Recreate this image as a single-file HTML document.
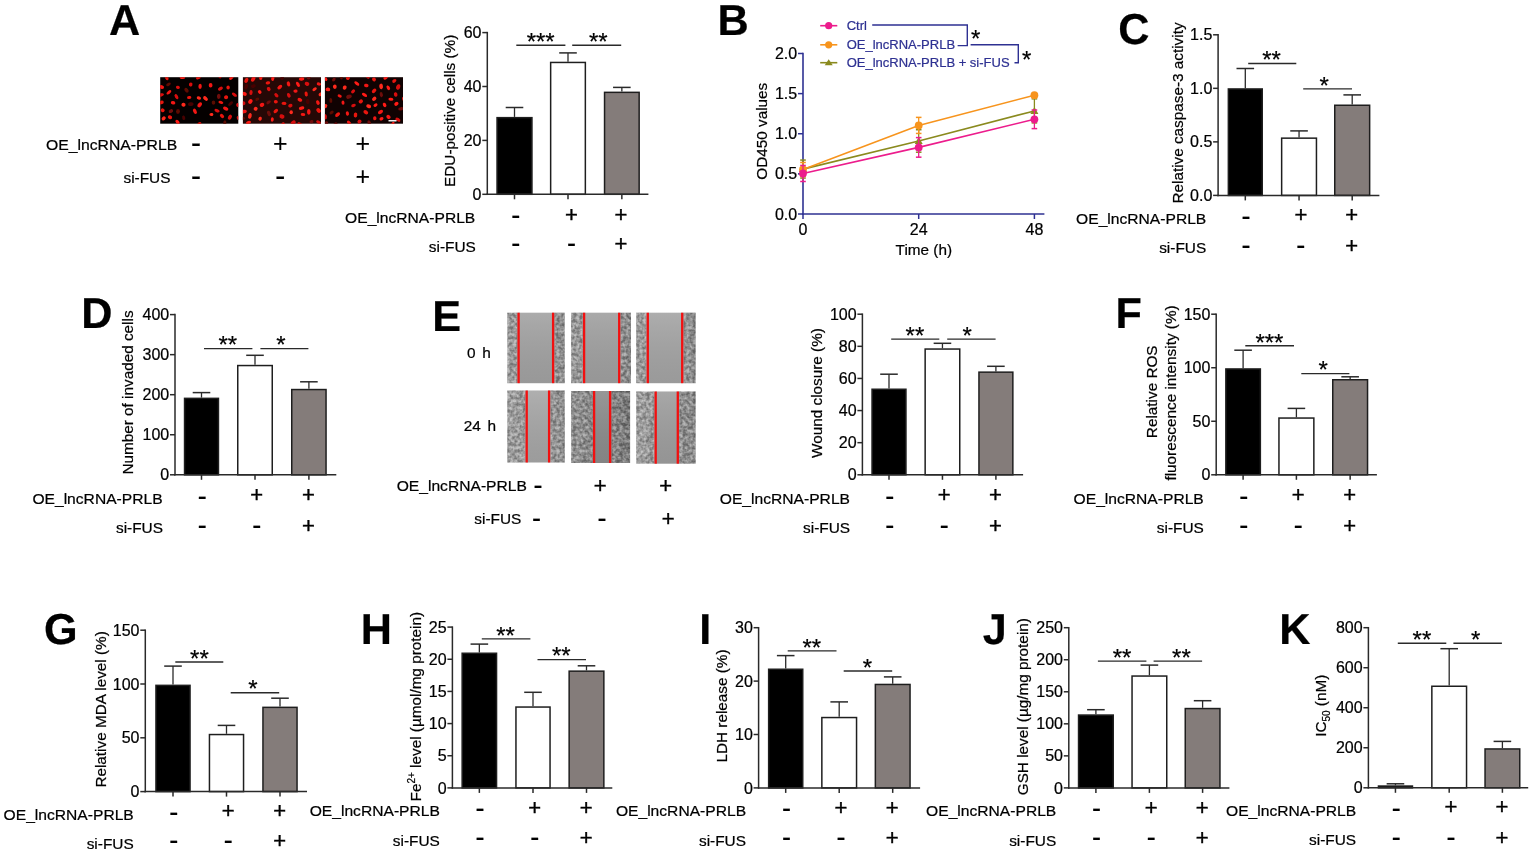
<!DOCTYPE html>
<html><head><meta charset="utf-8"><style>html,body{margin:0;padding:0;background:#fff;}svg{display:block;}</style></head>
<body>
<svg width="1535" height="854" viewBox="0 0 1535 854" font-family="'Liberation Sans', Arial, sans-serif">
<rect width="1535" height="854" fill="#fff"/>
<defs><filter id="bl" x="-20%" y="-20%" width="140%" height="140%"><feGaussianBlur stdDeviation="0.45"/></filter></defs>
<text x="109.03" y="35.00" font-size="43.2" text-anchor="start" font-weight="bold" style="text-rendering:geometricPrecision" stroke="#000" stroke-width="0.22">A</text>
<rect x="160.2" y="77.2" width="78.1" height="46.5" fill="#040000"/>
<clipPath id="c1"><rect x="160.2" y="77.2" width="78.1" height="46.5"/></clipPath>
<g clip-path="url(#c1)"><g filter="url(#bl)">
<ellipse cx="170.0" cy="117.3" rx="2.2" ry="1.9" transform="rotate(19 170.0 117.3)" fill="#e81410"/>
<ellipse cx="220.4" cy="88.6" rx="2.7" ry="1.7" transform="rotate(147 220.4 88.6)" fill="#d81010"/>
<ellipse cx="198.9" cy="98.0" rx="2.2" ry="1.7" transform="rotate(18 198.9 98.0)" fill="#ff2a1e"/>
<ellipse cx="211.4" cy="114.5" rx="2.0" ry="1.5" transform="rotate(177 211.4 114.5)" fill="#ff2a1e"/>
<ellipse cx="166.7" cy="77.6" rx="2.7" ry="1.6" transform="rotate(70 166.7 77.6)" fill="#e81410"/>
<ellipse cx="226.1" cy="97.2" rx="2.1" ry="2.0" transform="rotate(175 226.1 97.2)" fill="#e81410"/>
<ellipse cx="220.3" cy="76.3" rx="2.1" ry="1.6" transform="rotate(111 220.3 76.3)" fill="#d81010"/>
<ellipse cx="194.9" cy="111.2" rx="2.8" ry="1.7" transform="rotate(64 194.9 111.2)" fill="#f21812"/>
<ellipse cx="177.5" cy="122.0" rx="2.5" ry="1.6" transform="rotate(44 177.5 122.0)" fill="#ff1a14"/>
<ellipse cx="231.4" cy="77.7" rx="2.7" ry="1.5" transform="rotate(136 231.4 77.7)" fill="#ff1a14"/>
<ellipse cx="161.2" cy="102.5" rx="2.6" ry="1.8" transform="rotate(169 161.2 102.5)" fill="#e81410"/>
<ellipse cx="234.4" cy="94.7" rx="2.9" ry="1.5" transform="rotate(34 234.4 94.7)" fill="#d81010"/>
<ellipse cx="176.5" cy="96.7" rx="2.8" ry="1.6" transform="rotate(60 176.5 96.7)" fill="#d81010"/>
<ellipse cx="161.5" cy="87.0" rx="2.6" ry="1.9" transform="rotate(17 161.5 87.0)" fill="#f21812"/>
<ellipse cx="177.9" cy="87.4" rx="2.0" ry="1.6" transform="rotate(13 177.9 87.4)" fill="#d81010"/>
<ellipse cx="182.4" cy="77.2" rx="2.8" ry="1.9" transform="rotate(4 182.4 77.2)" fill="#ff1a14"/>
<ellipse cx="210.6" cy="85.2" rx="2.3" ry="1.9" transform="rotate(89 210.6 85.2)" fill="#f21812"/>
<ellipse cx="238.7" cy="117.9" rx="2.1" ry="1.9" transform="rotate(59 238.7 117.9)" fill="#d81010"/>
<ellipse cx="168.9" cy="92.3" rx="2.9" ry="1.5" transform="rotate(140 168.9 92.3)" fill="#f21812"/>
<ellipse cx="217.0" cy="110.7" rx="2.7" ry="1.6" transform="rotate(19 217.0 110.7)" fill="#d81010"/>
<ellipse cx="225.7" cy="108.7" rx="2.8" ry="1.8" transform="rotate(23 225.7 108.7)" fill="#f21812"/>
<ellipse cx="183.5" cy="104.7" rx="2.1" ry="2.0" transform="rotate(6 183.5 104.7)" fill="#ff2a1e"/>
<ellipse cx="229.9" cy="117.2" rx="2.7" ry="1.8" transform="rotate(121 229.9 117.2)" fill="#d81010"/>
<ellipse cx="199.7" cy="104.8" rx="2.8" ry="1.9" transform="rotate(124 199.7 104.8)" fill="#f21812"/>
<ellipse cx="173.1" cy="102.8" rx="2.3" ry="1.7" transform="rotate(9 173.1 102.8)" fill="#f21812"/>
<ellipse cx="189.2" cy="97.5" rx="2.2" ry="1.5" transform="rotate(173 189.2 97.5)" fill="#e81410"/>
<ellipse cx="198.4" cy="77.6" rx="2.5" ry="1.7" transform="rotate(153 198.4 77.6)" fill="#e81410"/>
<ellipse cx="162.7" cy="110.3" rx="2.0" ry="1.9" transform="rotate(31 162.7 110.3)" fill="#e81410"/>
<ellipse cx="238.0" cy="105.0" rx="2.0" ry="1.8" transform="rotate(75 238.0 105.0)" fill="#d81010"/>
<ellipse cx="190.7" cy="84.5" rx="2.0" ry="1.8" transform="rotate(104 190.7 84.5)" fill="#d81010"/>
<ellipse cx="199.4" cy="123.8" rx="2.1" ry="1.6" transform="rotate(149 199.4 123.8)" fill="#e81410"/>
<ellipse cx="220.9" cy="102.4" rx="2.5" ry="1.5" transform="rotate(16 220.9 102.4)" fill="#e81410"/>
<ellipse cx="228.1" cy="87.5" rx="2.0" ry="1.7" transform="rotate(90 228.1 87.5)" fill="#e81410"/>
<ellipse cx="205.5" cy="98.5" rx="2.8" ry="1.8" transform="rotate(41 205.5 98.5)" fill="#ff2a1e"/>
<ellipse cx="222.0" cy="116.0" rx="2.4" ry="1.7" transform="rotate(41 222.0 116.0)" fill="#e81410"/>
<ellipse cx="163.7" cy="118.4" rx="2.3" ry="1.8" transform="rotate(131 163.7 118.4)" fill="#ff2a1e"/>
<ellipse cx="161.1" cy="94.9" rx="2.9" ry="1.6" transform="rotate(166 161.1 94.9)" fill="#d81010"/>
<ellipse cx="200.1" cy="86.3" rx="2.6" ry="1.7" transform="rotate(92 200.1 86.3)" fill="#f21812"/>
<ellipse cx="170.9" cy="111.1" rx="2.3" ry="1.8" transform="rotate(153 170.9 111.1)" fill="#6e0a08"/>
<ellipse cx="213.5" cy="102.6" rx="2.1" ry="1.8" transform="rotate(84 213.5 102.6)" fill="#5a0806"/>
<ellipse cx="190.8" cy="104.1" rx="2.8" ry="1.9" transform="rotate(173 190.8 104.1)" fill="#4a0606"/>
<ellipse cx="183.7" cy="117.8" rx="2.3" ry="1.5" transform="rotate(77 183.7 117.8)" fill="#4a0606"/>
<ellipse cx="218.8" cy="96.4" rx="2.6" ry="1.9" transform="rotate(89 218.8 96.4)" fill="#6e0a08"/>
<ellipse cx="224.8" cy="122.9" rx="2.6" ry="1.6" transform="rotate(93 224.8 122.9)" fill="#5a0806"/>
<ellipse cx="178.0" cy="111.4" rx="2.5" ry="2.0" transform="rotate(94 178.0 111.4)" fill="#5a0806"/>
<ellipse cx="186.5" cy="90.3" rx="2.7" ry="1.8" transform="rotate(48 186.5 90.3)" fill="#5a0806"/>
<ellipse cx="230.6" cy="103.6" rx="2.9" ry="1.5" transform="rotate(140 230.6 103.6)" fill="#4a0606"/>
<ellipse cx="168.5" cy="84.3" rx="2.6" ry="1.5" transform="rotate(153 168.5 84.3)" fill="#5a0806"/>
</g></g>
<rect x="242.9" y="77.2" width="78.1" height="46.5" fill="#260806"/>
<clipPath id="c2"><rect x="242.9" y="77.2" width="78.1" height="46.5"/></clipPath>
<g clip-path="url(#c2)"><g filter="url(#bl)">
<ellipse cx="318.5" cy="122.2" rx="2.5" ry="1.5" transform="rotate(27 318.5 122.2)" fill="#d81010"/>
<ellipse cx="246.4" cy="80.3" rx="2.7" ry="1.8" transform="rotate(114 246.4 80.3)" fill="#e81410"/>
<ellipse cx="308.8" cy="111.9" rx="2.8" ry="1.8" transform="rotate(89 308.8 111.9)" fill="#f21812"/>
<ellipse cx="295.5" cy="91.1" rx="2.1" ry="1.6" transform="rotate(174 295.5 91.1)" fill="#f21812"/>
<ellipse cx="290.4" cy="105.6" rx="2.2" ry="1.8" transform="rotate(157 290.4 105.6)" fill="#d81010"/>
<ellipse cx="288.5" cy="83.9" rx="2.6" ry="1.7" transform="rotate(73 288.5 83.9)" fill="#f21812"/>
<ellipse cx="276.4" cy="95.3" rx="2.5" ry="1.6" transform="rotate(45 276.4 95.3)" fill="#d81010"/>
<ellipse cx="299.8" cy="124.4" rx="2.7" ry="1.9" transform="rotate(21 299.8 124.4)" fill="#e81410"/>
<ellipse cx="317.9" cy="102.6" rx="2.4" ry="1.7" transform="rotate(68 317.9 102.6)" fill="#f21812"/>
<ellipse cx="272.3" cy="119.5" rx="2.2" ry="1.5" transform="rotate(94 272.3 119.5)" fill="#ff1a14"/>
<ellipse cx="284.0" cy="103.4" rx="2.5" ry="1.7" transform="rotate(1 284.0 103.4)" fill="#e81410"/>
<ellipse cx="260.8" cy="77.4" rx="2.6" ry="1.7" transform="rotate(93 260.8 77.4)" fill="#ff1a14"/>
<ellipse cx="267.9" cy="82.8" rx="2.3" ry="1.6" transform="rotate(170 267.9 82.8)" fill="#e81410"/>
<ellipse cx="282.8" cy="124.6" rx="2.5" ry="1.8" transform="rotate(132 282.8 124.6)" fill="#f21812"/>
<ellipse cx="303.0" cy="114.5" rx="2.3" ry="1.5" transform="rotate(8 303.0 114.5)" fill="#f21812"/>
<ellipse cx="318.9" cy="84.0" rx="2.2" ry="1.6" transform="rotate(9 318.9 84.0)" fill="#f21812"/>
<ellipse cx="282.0" cy="116.5" rx="2.6" ry="2.0" transform="rotate(18 282.0 116.5)" fill="#d81010"/>
<ellipse cx="299.9" cy="99.8" rx="2.5" ry="1.8" transform="rotate(25 299.9 99.8)" fill="#f21812"/>
<ellipse cx="259.7" cy="91.9" rx="2.0" ry="1.7" transform="rotate(48 259.7 91.9)" fill="#ff1a14"/>
<ellipse cx="297.9" cy="84.3" rx="2.8" ry="1.6" transform="rotate(61 297.9 84.3)" fill="#ff1a14"/>
<ellipse cx="314.6" cy="89.2" rx="2.5" ry="1.5" transform="rotate(141 314.6 89.2)" fill="#ff2a1e"/>
<ellipse cx="318.6" cy="110.5" rx="2.7" ry="2.0" transform="rotate(50 318.6 110.5)" fill="#e81410"/>
<ellipse cx="301.6" cy="79.0" rx="2.8" ry="1.7" transform="rotate(174 301.6 79.0)" fill="#ff1a14"/>
<ellipse cx="260.1" cy="118.7" rx="2.0" ry="1.7" transform="rotate(114 260.1 118.7)" fill="#ff2a1e"/>
<ellipse cx="250.4" cy="101.5" rx="2.6" ry="2.0" transform="rotate(129 250.4 101.5)" fill="#ff1a14"/>
<ellipse cx="275.8" cy="111.0" rx="2.6" ry="1.7" transform="rotate(139 275.8 111.0)" fill="#e81410"/>
<ellipse cx="244.5" cy="93.8" rx="2.4" ry="1.9" transform="rotate(29 244.5 93.8)" fill="#ff1a14"/>
<ellipse cx="255.7" cy="108.8" rx="2.0" ry="1.9" transform="rotate(130 255.7 108.8)" fill="#ff2a1e"/>
<ellipse cx="248.5" cy="122.5" rx="2.6" ry="1.6" transform="rotate(163 248.5 122.5)" fill="#ff1a14"/>
<ellipse cx="243.9" cy="111.6" rx="2.9" ry="1.8" transform="rotate(168 243.9 111.6)" fill="#f21812"/>
<ellipse cx="307.0" cy="83.8" rx="2.4" ry="2.0" transform="rotate(20 307.0 83.8)" fill="#d81010"/>
<ellipse cx="272.8" cy="78.3" rx="2.8" ry="1.6" transform="rotate(99 272.8 78.3)" fill="#ff1a14"/>
<ellipse cx="291.2" cy="112.2" rx="2.0" ry="1.7" transform="rotate(90 291.2 112.2)" fill="#ff2a1e"/>
<ellipse cx="251.0" cy="92.6" rx="2.5" ry="1.6" transform="rotate(95 251.0 92.6)" fill="#d81010"/>
<ellipse cx="279.8" cy="87.1" rx="2.8" ry="1.7" transform="rotate(141 279.8 87.1)" fill="#f21812"/>
<ellipse cx="288.8" cy="95.3" rx="2.4" ry="1.7" transform="rotate(67 288.8 95.3)" fill="#d81010"/>
<ellipse cx="243.3" cy="103.3" rx="2.2" ry="1.9" transform="rotate(170 243.3 103.3)" fill="#d81010"/>
<ellipse cx="253.2" cy="79.0" rx="2.9" ry="1.9" transform="rotate(117 253.2 79.0)" fill="#f21812"/>
<ellipse cx="262.0" cy="104.9" rx="2.4" ry="2.0" transform="rotate(153 262.0 104.9)" fill="#f21812"/>
<ellipse cx="275.8" cy="101.7" rx="2.0" ry="1.8" transform="rotate(176 275.8 101.7)" fill="#e81410"/>
<ellipse cx="306.2" cy="94.0" rx="2.5" ry="1.6" transform="rotate(80 306.2 94.0)" fill="#e81410"/>
<ellipse cx="320.7" cy="94.3" rx="2.2" ry="1.7" transform="rotate(139 320.7 94.3)" fill="#ff2a1e"/>
<ellipse cx="293.2" cy="122.7" rx="2.7" ry="2.0" transform="rotate(148 293.2 122.7)" fill="#d81010"/>
<ellipse cx="301.6" cy="108.1" rx="2.8" ry="1.7" transform="rotate(168 301.6 108.1)" fill="#ff1a14"/>
<ellipse cx="249.9" cy="115.8" rx="2.9" ry="1.8" transform="rotate(102 249.9 115.8)" fill="#ff2a1e"/>
<ellipse cx="268.7" cy="89.1" rx="2.2" ry="1.8" transform="rotate(66 268.7 89.1)" fill="#d81010"/>
<ellipse cx="282.2" cy="77.5" rx="2.4" ry="1.8" transform="rotate(100 282.2 77.5)" fill="#4a0606"/>
<ellipse cx="311.5" cy="121.6" rx="2.1" ry="1.6" transform="rotate(168 311.5 121.6)" fill="#6e0a08"/>
<ellipse cx="253.3" cy="86.1" rx="2.4" ry="1.7" transform="rotate(162 253.3 86.1)" fill="#4a0606"/>
<ellipse cx="269.0" cy="113.5" rx="2.9" ry="1.8" transform="rotate(70 269.0 113.5)" fill="#6e0a08"/>
<ellipse cx="307.7" cy="101.6" rx="2.5" ry="1.8" transform="rotate(82 307.7 101.6)" fill="#4a0606"/>
<ellipse cx="246.2" cy="86.6" rx="2.9" ry="1.7" transform="rotate(111 246.2 86.6)" fill="#4a0606"/>
<ellipse cx="268.6" cy="102.3" rx="2.6" ry="1.6" transform="rotate(144 268.6 102.3)" fill="#6e0a08"/>
<ellipse cx="257.2" cy="99.3" rx="2.1" ry="1.6" transform="rotate(161 257.2 99.3)" fill="#5a0806"/>
<ellipse cx="242.9" cy="118.4" rx="2.4" ry="1.7" transform="rotate(178 242.9 118.4)" fill="#5a0806"/>
<ellipse cx="308.7" cy="77.1" rx="2.4" ry="2.0" transform="rotate(103 308.7 77.1)" fill="#6e0a08"/>
</g></g>
<rect x="324.9" y="77.2" width="78.1" height="46.5" fill="#100202"/>
<clipPath id="c3"><rect x="324.9" y="77.2" width="78.1" height="46.5"/></clipPath>
<g clip-path="url(#c3)"><g filter="url(#bl)">
<ellipse cx="343.0" cy="102.6" rx="2.2" ry="1.5" transform="rotate(85 343.0 102.6)" fill="#f21812"/>
<ellipse cx="353.5" cy="105.5" rx="2.3" ry="1.5" transform="rotate(164 353.5 105.5)" fill="#d81010"/>
<ellipse cx="374.0" cy="79.4" rx="2.0" ry="1.9" transform="rotate(50 374.0 79.4)" fill="#e81410"/>
<ellipse cx="325.0" cy="116.8" rx="2.7" ry="2.0" transform="rotate(88 325.0 116.8)" fill="#d81010"/>
<ellipse cx="344.7" cy="87.6" rx="2.2" ry="1.9" transform="rotate(113 344.7 87.6)" fill="#ff2a1e"/>
<ellipse cx="403.7" cy="99.0" rx="2.3" ry="1.5" transform="rotate(78 403.7 99.0)" fill="#ff1a14"/>
<ellipse cx="390.9" cy="99.3" rx="2.5" ry="1.5" transform="rotate(5 390.9 99.3)" fill="#ff1a14"/>
<ellipse cx="374.8" cy="118.3" rx="2.0" ry="1.7" transform="rotate(87 374.8 118.3)" fill="#f21812"/>
<ellipse cx="365.8" cy="112.2" rx="2.6" ry="1.9" transform="rotate(36 365.8 112.2)" fill="#e81410"/>
<ellipse cx="384.6" cy="104.9" rx="2.3" ry="1.7" transform="rotate(63 384.6 104.9)" fill="#ff1a14"/>
<ellipse cx="348.0" cy="77.7" rx="2.3" ry="1.9" transform="rotate(114 348.0 77.7)" fill="#e81410"/>
<ellipse cx="381.5" cy="118.8" rx="2.1" ry="1.6" transform="rotate(153 381.5 118.8)" fill="#ff1a14"/>
<ellipse cx="355.5" cy="115.0" rx="2.5" ry="1.8" transform="rotate(97 355.5 115.0)" fill="#e81410"/>
<ellipse cx="359.5" cy="121.6" rx="2.2" ry="1.9" transform="rotate(132 359.5 121.6)" fill="#d81010"/>
<ellipse cx="394.3" cy="80.9" rx="2.3" ry="1.6" transform="rotate(144 394.3 80.9)" fill="#e81410"/>
<ellipse cx="334.8" cy="86.7" rx="2.2" ry="1.9" transform="rotate(87 334.8 86.7)" fill="#ff2a1e"/>
<ellipse cx="374.1" cy="90.8" rx="2.7" ry="1.7" transform="rotate(135 374.1 90.8)" fill="#e81410"/>
<ellipse cx="364.5" cy="94.9" rx="2.9" ry="1.5" transform="rotate(31 364.5 94.9)" fill="#ff1a14"/>
<ellipse cx="392.5" cy="124.3" rx="2.7" ry="1.5" transform="rotate(125 392.5 124.3)" fill="#ff1a14"/>
<ellipse cx="396.4" cy="103.8" rx="2.3" ry="1.8" transform="rotate(144 396.4 103.8)" fill="#ff1a14"/>
<ellipse cx="381.1" cy="86.4" rx="2.8" ry="1.9" transform="rotate(81 381.1 86.4)" fill="#ff2a1e"/>
<ellipse cx="356.8" cy="83.5" rx="2.9" ry="1.5" transform="rotate(35 356.8 83.5)" fill="#ff1a14"/>
<ellipse cx="347.4" cy="113.5" rx="2.3" ry="1.6" transform="rotate(81 347.4 113.5)" fill="#f21812"/>
<ellipse cx="339.7" cy="96.0" rx="2.2" ry="1.5" transform="rotate(27 339.7 96.0)" fill="#f21812"/>
<ellipse cx="349.0" cy="122.7" rx="2.5" ry="1.5" transform="rotate(41 349.0 122.7)" fill="#f21812"/>
<ellipse cx="395.7" cy="94.5" rx="2.2" ry="1.8" transform="rotate(76 395.7 94.5)" fill="#d81010"/>
<ellipse cx="360.8" cy="101.4" rx="2.3" ry="1.9" transform="rotate(141 360.8 101.4)" fill="#e81410"/>
<ellipse cx="375.5" cy="105.1" rx="2.2" ry="1.5" transform="rotate(149 375.5 105.1)" fill="#ff1a14"/>
<ellipse cx="368.7" cy="106.3" rx="2.5" ry="1.9" transform="rotate(18 368.7 106.3)" fill="#ff2a1e"/>
<ellipse cx="367.8" cy="76.8" rx="2.1" ry="1.7" transform="rotate(40 367.8 76.8)" fill="#d81010"/>
<ellipse cx="325.5" cy="106.1" rx="2.1" ry="1.7" transform="rotate(120 325.5 106.1)" fill="#ff2a1e"/>
<ellipse cx="374.2" cy="98.8" rx="2.4" ry="1.8" transform="rotate(140 374.2 98.8)" fill="#ff2a1e"/>
<ellipse cx="380.5" cy="112.0" rx="2.8" ry="1.8" transform="rotate(147 380.5 112.0)" fill="#f21812"/>
<ellipse cx="325.7" cy="79.1" rx="2.1" ry="1.5" transform="rotate(54 325.7 79.1)" fill="#ff1a14"/>
<ellipse cx="353.1" cy="91.4" rx="2.3" ry="1.6" transform="rotate(136 353.1 91.4)" fill="#d81010"/>
<ellipse cx="385.8" cy="77.5" rx="2.6" ry="1.7" transform="rotate(141 385.8 77.5)" fill="#ff1a14"/>
<ellipse cx="388.3" cy="87.8" rx="2.5" ry="1.6" transform="rotate(63 388.3 87.8)" fill="#ff1a14"/>
<ellipse cx="366.3" cy="85.5" rx="2.3" ry="1.7" transform="rotate(15 366.3 85.5)" fill="#f21812"/>
<ellipse cx="388.5" cy="116.9" rx="2.3" ry="1.9" transform="rotate(37 388.5 116.9)" fill="#f21812"/>
<ellipse cx="398.2" cy="87.0" rx="2.8" ry="2.0" transform="rotate(110 398.2 87.0)" fill="#d81010"/>
<ellipse cx="397.9" cy="119.7" rx="2.8" ry="1.7" transform="rotate(34 397.9 119.7)" fill="#d81010"/>
<ellipse cx="337.6" cy="114.6" rx="2.9" ry="1.7" transform="rotate(139 337.6 114.6)" fill="#e81410"/>
<ellipse cx="327.9" cy="89.4" rx="2.4" ry="1.8" transform="rotate(6 327.9 89.4)" fill="#ff1a14"/>
<ellipse cx="333.9" cy="79.5" rx="2.2" ry="1.5" transform="rotate(130 333.9 79.5)" fill="#6e0a08"/>
<ellipse cx="330.8" cy="100.6" rx="2.5" ry="1.5" transform="rotate(85 330.8 100.6)" fill="#5a0806"/>
<ellipse cx="381.3" cy="94.6" rx="2.7" ry="1.6" transform="rotate(78 381.3 94.6)" fill="#6e0a08"/>
<ellipse cx="331.6" cy="112.5" rx="2.4" ry="1.6" transform="rotate(141 331.6 112.5)" fill="#5a0806"/>
<ellipse cx="341.3" cy="77.3" rx="2.1" ry="1.6" transform="rotate(74 341.3 77.3)" fill="#5a0806"/>
<ellipse cx="335.4" cy="124.3" rx="2.2" ry="1.7" transform="rotate(146 335.4 124.3)" fill="#6e0a08"/>
<ellipse cx="349.0" cy="96.7" rx="2.9" ry="2.0" transform="rotate(158 349.0 96.7)" fill="#6e0a08"/>
<ellipse cx="400.9" cy="108.8" rx="2.8" ry="1.7" transform="rotate(169 400.9 108.8)" fill="#6e0a08"/>
<ellipse cx="369.2" cy="122.7" rx="2.5" ry="1.7" transform="rotate(65 369.2 122.7)" fill="#6e0a08"/>
<ellipse cx="326.0" cy="123.0" rx="2.3" ry="1.7" transform="rotate(160 326.0 123.0)" fill="#6e0a08"/>
</g></g>
<rect x="388.5" y="120" width="8" height="1.5" fill="#f0f0f0"/>
<text x="177.20" y="149.90" font-size="15.4" text-anchor="end" textLength="131.2" lengthAdjust="spacingAndGlyphs" stroke="#000" stroke-width="0.22">OE_lncRNA-PRLB</text>
<text x="170.50" y="183.20" font-size="15.4" text-anchor="end"  stroke="#000" stroke-width="0.22">si-FUS</text>
<text x="196.00" y="152.71" font-size="30" text-anchor="middle"  stroke="#000" stroke-width="0.22">-</text>
<text x="196.00" y="186.01" font-size="30" text-anchor="middle"  stroke="#000" stroke-width="0.22">-</text>
<text x="280.20" y="151.83" font-size="25" text-anchor="middle" stroke="#000" stroke-width="0.1">+</text>
<text x="280.20" y="186.01" font-size="30" text-anchor="middle"  stroke="#000" stroke-width="0.22">-</text>
<text x="362.70" y="151.83" font-size="25" text-anchor="middle" stroke="#000" stroke-width="0.1">+</text>
<text x="362.70" y="185.42" font-size="25" text-anchor="middle" stroke="#000" stroke-width="0.1">+</text>
<line x1="514.50" y1="116.90" x2="514.50" y2="107.50" stroke="#2a2a2a" stroke-width="1.3"/>
<line x1="505.70" y1="107.50" x2="523.30" y2="107.50" stroke="#2a2a2a" stroke-width="1.5"/>
<rect x="497.05" y="117.65" width="34.90" height="76.65" fill="#000000" stroke="#1e1e1e" stroke-width="1.5"/>
<line x1="568.00" y1="61.70" x2="568.00" y2="52.90" stroke="#2a2a2a" stroke-width="1.3"/>
<line x1="559.20" y1="52.90" x2="576.80" y2="52.90" stroke="#2a2a2a" stroke-width="1.5"/>
<rect x="550.65" y="62.45" width="34.70" height="131.85" fill="#ffffff" stroke="#1e1e1e" stroke-width="1.5"/>
<line x1="621.85" y1="91.60" x2="621.85" y2="87.40" stroke="#2a2a2a" stroke-width="1.3"/>
<line x1="613.05" y1="87.40" x2="630.65" y2="87.40" stroke="#2a2a2a" stroke-width="1.5"/>
<rect x="604.55" y="92.35" width="34.60" height="101.95" fill="#847c7a" stroke="#1e1e1e" stroke-width="1.5"/>
<line x1="487.30" y1="31.85" x2="487.30" y2="195.05" stroke="#2a2a2a" stroke-width="1.5"/>
<line x1="486.55" y1="194.30" x2="648.40" y2="194.30" stroke="#2a2a2a" stroke-width="1.5"/>
<line x1="482.30" y1="194.30" x2="487.30" y2="194.30" stroke="#2a2a2a" stroke-width="1.5"/>
<text x="481.50" y="199.90" font-size="16.0" text-anchor="end"  stroke="#000" stroke-width="0.22">0</text>
<line x1="482.30" y1="140.40" x2="487.30" y2="140.40" stroke="#2a2a2a" stroke-width="1.5"/>
<text x="481.50" y="146.00" font-size="16.0" text-anchor="end"  stroke="#000" stroke-width="0.22">20</text>
<line x1="482.30" y1="86.50" x2="487.30" y2="86.50" stroke="#2a2a2a" stroke-width="1.5"/>
<text x="481.50" y="92.10" font-size="16.0" text-anchor="end"  stroke="#000" stroke-width="0.22">40</text>
<line x1="482.30" y1="32.60" x2="487.30" y2="32.60" stroke="#2a2a2a" stroke-width="1.5"/>
<text x="481.50" y="38.20" font-size="16.0" text-anchor="end"  stroke="#000" stroke-width="0.22">60</text>
<line x1="514.50" y1="194.30" x2="514.50" y2="199.30" stroke="#2a2a2a" stroke-width="1.5"/>
<line x1="568.00" y1="194.30" x2="568.00" y2="199.30" stroke="#2a2a2a" stroke-width="1.5"/>
<line x1="621.85" y1="194.30" x2="621.85" y2="199.30" stroke="#2a2a2a" stroke-width="1.5"/>
<line x1="516.30" y1="45.20" x2="565.40" y2="45.20" stroke="#2a2a2a" stroke-width="1.4"/>
<text x="540.70" y="49.90" font-size="24" text-anchor="middle"  stroke="#000" stroke-width="0.22">***</text>
<line x1="572.20" y1="45.20" x2="621.20" y2="45.20" stroke="#2a2a2a" stroke-width="1.4"/>
<text x="598.30" y="49.90" font-size="24" text-anchor="middle"  stroke="#000" stroke-width="0.22">**</text>
<text transform="translate(449.30,110.80) rotate(-90)" x="0" y="5.51" font-size="15.3" text-anchor="middle" stroke="#000" stroke-width="0.22">EDU-positive cells (%)</text>
<text x="475.30" y="222.90" font-size="15.4" text-anchor="end" textLength="130.2" lengthAdjust="spacingAndGlyphs" stroke="#000" stroke-width="0.22">OE_lncRNA-PRLB</text>
<text x="475.80" y="251.60" font-size="15.4" text-anchor="end"  stroke="#000" stroke-width="0.22">si-FUS</text>
<text x="515.70" y="224.21" font-size="27" text-anchor="middle"  stroke="#000" stroke-width="0.22">-</text>
<text x="515.70" y="252.21" font-size="27" text-anchor="middle"  stroke="#000" stroke-width="0.22">-</text>
<text x="571.40" y="221.60" font-size="22" text-anchor="middle" stroke="#000" stroke-width="0.4">+</text>
<text x="571.40" y="252.21" font-size="27" text-anchor="middle"  stroke="#000" stroke-width="0.22">-</text>
<text x="621.00" y="221.60" font-size="22" text-anchor="middle" stroke="#000" stroke-width="0.4">+</text>
<text x="621.00" y="251.20" font-size="22" text-anchor="middle" stroke="#000" stroke-width="0.4">+</text>
<text x="1118.20" y="43.60" font-size="43.2" text-anchor="start" font-weight="bold" style="text-rendering:geometricPrecision" stroke="#000" stroke-width="0.22">C</text>
<line x1="1245.30" y1="88.20" x2="1245.30" y2="68.50" stroke="#2a2a2a" stroke-width="1.3"/>
<line x1="1236.50" y1="68.50" x2="1254.10" y2="68.50" stroke="#2a2a2a" stroke-width="1.5"/>
<rect x="1228.35" y="88.95" width="33.90" height="106.45" fill="#000000" stroke="#1e1e1e" stroke-width="1.5"/>
<line x1="1299.05" y1="137.40" x2="1299.05" y2="130.90" stroke="#2a2a2a" stroke-width="1.3"/>
<line x1="1290.25" y1="130.90" x2="1307.85" y2="130.90" stroke="#2a2a2a" stroke-width="1.5"/>
<rect x="1281.65" y="138.15" width="34.80" height="57.25" fill="#ffffff" stroke="#1e1e1e" stroke-width="1.5"/>
<line x1="1352.20" y1="104.50" x2="1352.20" y2="94.90" stroke="#2a2a2a" stroke-width="1.3"/>
<line x1="1343.40" y1="94.90" x2="1361.00" y2="94.90" stroke="#2a2a2a" stroke-width="1.5"/>
<rect x="1334.75" y="105.25" width="34.90" height="90.15" fill="#847c7a" stroke="#1e1e1e" stroke-width="1.5"/>
<line x1="1218.10" y1="34.05" x2="1218.10" y2="196.15" stroke="#2a2a2a" stroke-width="1.5"/>
<line x1="1217.35" y1="195.40" x2="1379.40" y2="195.40" stroke="#2a2a2a" stroke-width="1.5"/>
<line x1="1213.10" y1="195.40" x2="1218.10" y2="195.40" stroke="#2a2a2a" stroke-width="1.5"/>
<text x="1212.30" y="201.00" font-size="16.0" text-anchor="end"  stroke="#000" stroke-width="0.22">0.0</text>
<line x1="1213.10" y1="141.87" x2="1218.10" y2="141.87" stroke="#2a2a2a" stroke-width="1.5"/>
<text x="1212.30" y="147.47" font-size="16.0" text-anchor="end"  stroke="#000" stroke-width="0.22">0.5</text>
<line x1="1213.10" y1="88.33" x2="1218.10" y2="88.33" stroke="#2a2a2a" stroke-width="1.5"/>
<text x="1212.30" y="93.93" font-size="16.0" text-anchor="end"  stroke="#000" stroke-width="0.22">1.0</text>
<line x1="1213.10" y1="34.80" x2="1218.10" y2="34.80" stroke="#2a2a2a" stroke-width="1.5"/>
<text x="1212.30" y="40.40" font-size="16.0" text-anchor="end"  stroke="#000" stroke-width="0.22">1.5</text>
<line x1="1245.30" y1="195.40" x2="1245.30" y2="200.40" stroke="#2a2a2a" stroke-width="1.5"/>
<line x1="1299.05" y1="195.40" x2="1299.05" y2="200.40" stroke="#2a2a2a" stroke-width="1.5"/>
<line x1="1352.20" y1="195.40" x2="1352.20" y2="200.40" stroke="#2a2a2a" stroke-width="1.5"/>
<line x1="1248.20" y1="63.50" x2="1296.30" y2="63.50" stroke="#2a2a2a" stroke-width="1.4"/>
<text x="1271.60" y="68.20" font-size="24" text-anchor="middle"  stroke="#000" stroke-width="0.22">**</text>
<line x1="1303.20" y1="88.90" x2="1352.00" y2="88.90" stroke="#2a2a2a" stroke-width="1.4"/>
<text x="1324.20" y="93.60" font-size="24" text-anchor="middle"  stroke="#000" stroke-width="0.22">*</text>
<text transform="translate(1177.00,113.00) rotate(-90)" x="0" y="5.51" font-size="15.3" text-anchor="middle" stroke="#000" stroke-width="0.22">Relative caspase-3 activity</text>
<text x="1206.30" y="223.60" font-size="15.4" text-anchor="end" textLength="130.2" lengthAdjust="spacingAndGlyphs" stroke="#000" stroke-width="0.22">OE_lncRNA-PRLB</text>
<text x="1206.20" y="253.00" font-size="15.4" text-anchor="end"  stroke="#000" stroke-width="0.22">si-FUS</text>
<text x="1246.00" y="224.91" font-size="27" text-anchor="middle"  stroke="#000" stroke-width="0.22">-</text>
<text x="1246.00" y="253.61" font-size="27" text-anchor="middle"  stroke="#000" stroke-width="0.22">-</text>
<text x="1300.85" y="222.30" font-size="22" text-anchor="middle" stroke="#000" stroke-width="0.4">+</text>
<text x="1300.85" y="253.61" font-size="27" text-anchor="middle"  stroke="#000" stroke-width="0.22">-</text>
<text x="1351.80" y="222.30" font-size="22" text-anchor="middle" stroke="#000" stroke-width="0.4">+</text>
<text x="1351.80" y="252.60" font-size="22" text-anchor="middle" stroke="#000" stroke-width="0.4">+</text>
<text x="81.30" y="328.00" font-size="43.2" text-anchor="start" font-weight="bold" style="text-rendering:geometricPrecision" stroke="#000" stroke-width="0.22">D</text>
<line x1="201.50" y1="397.60" x2="201.50" y2="392.60" stroke="#2a2a2a" stroke-width="1.3"/>
<line x1="192.70" y1="392.60" x2="210.30" y2="392.60" stroke="#2a2a2a" stroke-width="1.5"/>
<rect x="184.55" y="398.35" width="33.90" height="76.45" fill="#000000" stroke="#1e1e1e" stroke-width="1.5"/>
<line x1="255.00" y1="364.80" x2="255.00" y2="355.30" stroke="#2a2a2a" stroke-width="1.3"/>
<line x1="246.20" y1="355.30" x2="263.80" y2="355.30" stroke="#2a2a2a" stroke-width="1.5"/>
<rect x="237.75" y="365.55" width="34.50" height="109.25" fill="#ffffff" stroke="#1e1e1e" stroke-width="1.5"/>
<line x1="308.90" y1="388.80" x2="308.90" y2="381.80" stroke="#2a2a2a" stroke-width="1.3"/>
<line x1="300.10" y1="381.80" x2="317.70" y2="381.80" stroke="#2a2a2a" stroke-width="1.5"/>
<rect x="291.75" y="389.55" width="34.30" height="85.25" fill="#847c7a" stroke="#1e1e1e" stroke-width="1.5"/>
<line x1="175.00" y1="313.85" x2="175.00" y2="475.55" stroke="#2a2a2a" stroke-width="1.5"/>
<line x1="174.25" y1="474.80" x2="336.30" y2="474.80" stroke="#2a2a2a" stroke-width="1.5"/>
<line x1="170.00" y1="474.80" x2="175.00" y2="474.80" stroke="#2a2a2a" stroke-width="1.5"/>
<text x="169.20" y="480.40" font-size="16.0" text-anchor="end"  stroke="#000" stroke-width="0.22">0</text>
<line x1="170.00" y1="434.75" x2="175.00" y2="434.75" stroke="#2a2a2a" stroke-width="1.5"/>
<text x="169.20" y="440.35" font-size="16.0" text-anchor="end"  stroke="#000" stroke-width="0.22">100</text>
<line x1="170.00" y1="394.70" x2="175.00" y2="394.70" stroke="#2a2a2a" stroke-width="1.5"/>
<text x="169.20" y="400.30" font-size="16.0" text-anchor="end"  stroke="#000" stroke-width="0.22">200</text>
<line x1="170.00" y1="354.65" x2="175.00" y2="354.65" stroke="#2a2a2a" stroke-width="1.5"/>
<text x="169.20" y="360.25" font-size="16.0" text-anchor="end"  stroke="#000" stroke-width="0.22">300</text>
<line x1="170.00" y1="314.60" x2="175.00" y2="314.60" stroke="#2a2a2a" stroke-width="1.5"/>
<text x="169.20" y="320.20" font-size="16.0" text-anchor="end"  stroke="#000" stroke-width="0.22">400</text>
<line x1="201.50" y1="474.80" x2="201.50" y2="479.80" stroke="#2a2a2a" stroke-width="1.5"/>
<line x1="255.00" y1="474.80" x2="255.00" y2="479.80" stroke="#2a2a2a" stroke-width="1.5"/>
<line x1="308.90" y1="474.80" x2="308.90" y2="479.80" stroke="#2a2a2a" stroke-width="1.5"/>
<line x1="204.00" y1="348.60" x2="252.40" y2="348.60" stroke="#2a2a2a" stroke-width="1.4"/>
<text x="227.80" y="353.30" font-size="24" text-anchor="middle"  stroke="#000" stroke-width="0.22">**</text>
<line x1="260.40" y1="348.60" x2="308.40" y2="348.60" stroke="#2a2a2a" stroke-width="1.4"/>
<text x="280.90" y="353.30" font-size="24" text-anchor="middle"  stroke="#000" stroke-width="0.22">*</text>
<text transform="translate(127.50,392.50) rotate(-90)" x="0" y="5.51" font-size="15.3" text-anchor="middle" stroke="#000" stroke-width="0.22">Number of invaded cells</text>
<text x="162.60" y="503.60" font-size="15.4" text-anchor="end" textLength="130.2" lengthAdjust="spacingAndGlyphs" stroke="#000" stroke-width="0.22">OE_lncRNA-PRLB</text>
<text x="163.00" y="533.20" font-size="15.4" text-anchor="end"  stroke="#000" stroke-width="0.22">si-FUS</text>
<text x="202.20" y="504.91" font-size="27" text-anchor="middle"  stroke="#000" stroke-width="0.22">-</text>
<text x="202.20" y="533.81" font-size="27" text-anchor="middle"  stroke="#000" stroke-width="0.22">-</text>
<text x="256.80" y="502.30" font-size="22" text-anchor="middle" stroke="#000" stroke-width="0.4">+</text>
<text x="256.80" y="533.81" font-size="27" text-anchor="middle"  stroke="#000" stroke-width="0.22">-</text>
<text x="308.50" y="502.30" font-size="22" text-anchor="middle" stroke="#000" stroke-width="0.4">+</text>
<text x="308.50" y="532.80" font-size="22" text-anchor="middle" stroke="#000" stroke-width="0.4">+</text>
<text x="432.20" y="330.80" font-size="43.2" text-anchor="start" font-weight="bold" style="text-rendering:geometricPrecision" stroke="#000" stroke-width="0.22">E</text>
<linearGradient id="wg11" x1="0" x2="1" y1="0" y2="0"><stop offset="0" stop-color="#aaaaaa"/><stop offset="0.20" stop-color="#a2a2a2"/><stop offset="0.80" stop-color="#a2a2a2"/><stop offset="1" stop-color="#8e8e8e"/></linearGradient>
<linearGradient id="wg11v" x1="0" x2="0" y1="0" y2="1"><stop offset="0" stop-color="#fff" stop-opacity="0.10"/><stop offset="1" stop-color="#000" stop-opacity="0.06"/></linearGradient>
<rect x="507.3" y="312.7" width="57.4" height="70.5" fill="url(#wg11)"/>
<rect x="518.6" y="312.7" width="34.5" height="70.5" fill="url(#wg11v)"/>
<filter id="t11" x="0" y="0" width="100%" height="100%" filterUnits="objectBoundingBox" color-interpolation-filters="sRGB"><feTurbulence type="fractalNoise" baseFrequency="0.3" numOctaves="2" seed="11" result="n"/><feColorMatrix in="n" type="matrix" values="2.0 0 0 0 -0.52  2.0 0 0 0 -0.52  2.0 0 0 0 -0.52  0 0 0 0 0.3"/><feGaussianBlur stdDeviation="0.35"/><feComposite in2="SourceGraphic" operator="in"/></filter>
<rect x="507.3" y="312.7" width="9.80" height="70.5" fill="#000" filter="url(#t11)"/>
<rect x="554.60" y="312.7" width="10.10" height="70.5" fill="#000" filter="url(#t11)"/>
<rect x="517.45" y="312.7" width="2.3" height="70.5" fill="#f21010"/>
<rect x="551.95" y="312.7" width="2.3" height="70.5" fill="#f21010"/>
<linearGradient id="wg12" x1="0" x2="1" y1="0" y2="0"><stop offset="0" stop-color="#a6a6a6"/><stop offset="0.22" stop-color="#a0a0a0"/><stop offset="0.80" stop-color="#a0a0a0"/><stop offset="1" stop-color="#8a8a8a"/></linearGradient>
<linearGradient id="wg12v" x1="0" x2="0" y1="0" y2="1"><stop offset="0" stop-color="#fff" stop-opacity="0.10"/><stop offset="1" stop-color="#000" stop-opacity="0.06"/></linearGradient>
<rect x="571.1" y="312.7" width="59.9" height="70.5" fill="url(#wg12)"/>
<rect x="584.1" y="312.7" width="35.10000000000002" height="70.5" fill="url(#wg12v)"/>
<filter id="t12" x="0" y="0" width="100%" height="100%" filterUnits="objectBoundingBox" color-interpolation-filters="sRGB"><feTurbulence type="fractalNoise" baseFrequency="0.3" numOctaves="2" seed="12" result="n"/><feColorMatrix in="n" type="matrix" values="2.0 0 0 0 -0.52  2.0 0 0 0 -0.52  2.0 0 0 0 -0.52  0 0 0 0 0.3"/><feGaussianBlur stdDeviation="0.35"/><feComposite in2="SourceGraphic" operator="in"/></filter>
<rect x="571.1" y="312.7" width="11.50" height="70.5" fill="#000" filter="url(#t12)"/>
<rect x="620.70" y="312.7" width="10.30" height="70.5" fill="#000" filter="url(#t12)"/>
<rect x="582.95" y="312.7" width="2.3" height="70.5" fill="#f21010"/>
<rect x="618.05" y="312.7" width="2.3" height="70.5" fill="#f21010"/>
<linearGradient id="wg13" x1="0" x2="1" y1="0" y2="0"><stop offset="0" stop-color="#a8a8a8"/><stop offset="0.20" stop-color="#a4a4a4"/><stop offset="0.77" stop-color="#a4a4a4"/><stop offset="1" stop-color="#8a8a8a"/></linearGradient>
<linearGradient id="wg13v" x1="0" x2="0" y1="0" y2="1"><stop offset="0" stop-color="#fff" stop-opacity="0.10"/><stop offset="1" stop-color="#000" stop-opacity="0.06"/></linearGradient>
<rect x="636.2" y="312.7" width="59.4" height="70.5" fill="url(#wg13)"/>
<rect x="647.8" y="312.7" width="34.40000000000009" height="70.5" fill="url(#wg13v)"/>
<filter id="t13" x="0" y="0" width="100%" height="100%" filterUnits="objectBoundingBox" color-interpolation-filters="sRGB"><feTurbulence type="fractalNoise" baseFrequency="0.3" numOctaves="2" seed="13" result="n"/><feColorMatrix in="n" type="matrix" values="2.0 0 0 0 -0.52  2.0 0 0 0 -0.52  2.0 0 0 0 -0.52  0 0 0 0 0.3"/><feGaussianBlur stdDeviation="0.35"/><feComposite in2="SourceGraphic" operator="in"/></filter>
<rect x="636.2" y="312.7" width="10.10" height="70.5" fill="#000" filter="url(#t13)"/>
<rect x="683.70" y="312.7" width="11.90" height="70.5" fill="#000" filter="url(#t13)"/>
<rect x="646.65" y="312.7" width="2.3" height="70.5" fill="#f21010"/>
<rect x="681.05" y="312.7" width="2.3" height="70.5" fill="#f21010"/>
<linearGradient id="wg14" x1="0" x2="1" y1="0" y2="0"><stop offset="0" stop-color="#acacac"/><stop offset="0.34" stop-color="#a6a6a6"/><stop offset="0.73" stop-color="#a6a6a6"/><stop offset="1" stop-color="#949494"/></linearGradient>
<linearGradient id="wg14v" x1="0" x2="0" y1="0" y2="1"><stop offset="0" stop-color="#fff" stop-opacity="0.10"/><stop offset="1" stop-color="#000" stop-opacity="0.06"/></linearGradient>
<rect x="507.3" y="390.5" width="57.4" height="72.0" fill="url(#wg14)"/>
<rect x="526.7" y="390.5" width="22.399999999999977" height="72.0" fill="url(#wg14v)"/>
<filter id="t14" x="0" y="0" width="100%" height="100%" filterUnits="objectBoundingBox" color-interpolation-filters="sRGB"><feTurbulence type="fractalNoise" baseFrequency="0.3" numOctaves="2" seed="14" result="n"/><feColorMatrix in="n" type="matrix" values="2.0 0 0 0 -0.52  2.0 0 0 0 -0.52  2.0 0 0 0 -0.52  0 0 0 0 0.3"/><feGaussianBlur stdDeviation="0.35"/><feComposite in2="SourceGraphic" operator="in"/></filter>
<rect x="507.3" y="390.5" width="17.90" height="72.0" fill="#000" filter="url(#t14)"/>
<rect x="550.60" y="390.5" width="14.10" height="72.0" fill="#000" filter="url(#t14)"/>
<rect x="525.55" y="390.5" width="2.3" height="72.0" fill="#f21010"/>
<rect x="547.95" y="390.5" width="2.3" height="72.0" fill="#f21010"/>
<linearGradient id="wg15" x1="0" x2="1" y1="0" y2="0"><stop offset="0" stop-color="#9c9c9c"/><stop offset="0.39" stop-color="#8c8c8c"/><stop offset="0.66" stop-color="#8c8c8c"/><stop offset="1" stop-color="#7a7a7a"/></linearGradient>
<linearGradient id="wg15v" x1="0" x2="0" y1="0" y2="1"><stop offset="0" stop-color="#fff" stop-opacity="0.10"/><stop offset="1" stop-color="#000" stop-opacity="0.06"/></linearGradient>
<rect x="571.1" y="391.0" width="59.0" height="72.0" fill="url(#wg15)"/>
<rect x="594.1" y="391.0" width="16.0" height="72.0" fill="url(#wg15v)"/>
<filter id="t15" x="0" y="0" width="100%" height="100%" filterUnits="objectBoundingBox" color-interpolation-filters="sRGB"><feTurbulence type="fractalNoise" baseFrequency="0.3" numOctaves="2" seed="15" result="n"/><feColorMatrix in="n" type="matrix" values="2.0 0 0 0 -0.52  2.0 0 0 0 -0.52  2.0 0 0 0 -0.52  0 0 0 0 0.3"/><feGaussianBlur stdDeviation="0.35"/><feComposite in2="SourceGraphic" operator="in"/></filter>
<rect x="571.1" y="391.0" width="21.50" height="72.0" fill="#000" filter="url(#t15)"/>
<rect x="611.60" y="391.0" width="18.50" height="72.0" fill="#000" filter="url(#t15)"/>
<rect x="592.95" y="391.0" width="2.3" height="72.0" fill="#f21010"/>
<rect x="608.95" y="391.0" width="2.3" height="72.0" fill="#f21010"/>
<linearGradient id="wg16" x1="0" x2="1" y1="0" y2="0"><stop offset="0" stop-color="#b2b2b2"/><stop offset="0.33" stop-color="#9e9e9e"/><stop offset="0.70" stop-color="#9e9e9e"/><stop offset="1" stop-color="#8a8a8a"/></linearGradient>
<linearGradient id="wg16v" x1="0" x2="0" y1="0" y2="1"><stop offset="0" stop-color="#fff" stop-opacity="0.10"/><stop offset="1" stop-color="#000" stop-opacity="0.06"/></linearGradient>
<rect x="636.2" y="391.5" width="59.4" height="72.2" fill="url(#wg16)"/>
<rect x="655.7" y="391.5" width="22.09999999999991" height="72.2" fill="url(#wg16v)"/>
<filter id="t16" x="0" y="0" width="100%" height="100%" filterUnits="objectBoundingBox" color-interpolation-filters="sRGB"><feTurbulence type="fractalNoise" baseFrequency="0.3" numOctaves="2" seed="16" result="n"/><feColorMatrix in="n" type="matrix" values="2.0 0 0 0 -0.52  2.0 0 0 0 -0.52  2.0 0 0 0 -0.52  0 0 0 0 0.3"/><feGaussianBlur stdDeviation="0.35"/><feComposite in2="SourceGraphic" operator="in"/></filter>
<rect x="636.2" y="391.5" width="18.00" height="72.2" fill="#000" filter="url(#t16)"/>
<rect x="679.30" y="391.5" width="16.30" height="72.2" fill="#000" filter="url(#t16)"/>
<rect x="654.55" y="391.5" width="2.3" height="72.2" fill="#f21010"/>
<rect x="676.65" y="391.5" width="2.3" height="72.2" fill="#f21010"/>
<text x="467.00" y="357.90" font-size="15.4" text-anchor="start" word-spacing="2.4" stroke="#000" stroke-width="0.22">0 h</text>
<text x="463.80" y="430.90" font-size="15.4" text-anchor="start" word-spacing="2.4" stroke="#000" stroke-width="0.22">24 h</text>
<text x="526.90" y="490.70" font-size="15.4" text-anchor="end" textLength="130.2" lengthAdjust="spacingAndGlyphs" stroke="#000" stroke-width="0.22">OE_lncRNA-PRLB</text>
<text x="521.40" y="523.60" font-size="15.4" text-anchor="end"  stroke="#000" stroke-width="0.22">si-FUS</text>
<text x="538.10" y="493.51" font-size="27" text-anchor="middle"  stroke="#000" stroke-width="0.22">-</text>
<text x="600.30" y="493.20" font-size="22" text-anchor="middle" stroke="#000" stroke-width="0.4">+</text>
<text x="665.70" y="493.20" font-size="22" text-anchor="middle" stroke="#000" stroke-width="0.4">+</text>
<text x="536.50" y="526.81" font-size="27" text-anchor="middle"  stroke="#000" stroke-width="0.22">-</text>
<text x="601.90" y="526.81" font-size="27" text-anchor="middle"  stroke="#000" stroke-width="0.22">-</text>
<text x="668.20" y="526.10" font-size="22" text-anchor="middle" stroke="#000" stroke-width="0.4">+</text>
<line x1="889.00" y1="388.50" x2="889.00" y2="374.20" stroke="#2a2a2a" stroke-width="1.3"/>
<line x1="880.20" y1="374.20" x2="897.80" y2="374.20" stroke="#2a2a2a" stroke-width="1.5"/>
<rect x="872.05" y="389.25" width="33.90" height="85.55" fill="#000000" stroke="#1e1e1e" stroke-width="1.5"/>
<line x1="942.45" y1="348.30" x2="942.45" y2="343.30" stroke="#2a2a2a" stroke-width="1.3"/>
<line x1="933.65" y1="343.30" x2="951.25" y2="343.30" stroke="#2a2a2a" stroke-width="1.5"/>
<rect x="925.15" y="349.05" width="34.60" height="125.75" fill="#ffffff" stroke="#1e1e1e" stroke-width="1.5"/>
<line x1="995.90" y1="371.40" x2="995.90" y2="366.30" stroke="#2a2a2a" stroke-width="1.3"/>
<line x1="987.10" y1="366.30" x2="1004.70" y2="366.30" stroke="#2a2a2a" stroke-width="1.5"/>
<rect x="978.95" y="372.15" width="33.90" height="102.65" fill="#847c7a" stroke="#1e1e1e" stroke-width="1.5"/>
<line x1="862.40" y1="313.45" x2="862.40" y2="475.55" stroke="#2a2a2a" stroke-width="1.5"/>
<line x1="861.65" y1="474.80" x2="1023.10" y2="474.80" stroke="#2a2a2a" stroke-width="1.5"/>
<line x1="857.40" y1="474.80" x2="862.40" y2="474.80" stroke="#2a2a2a" stroke-width="1.5"/>
<text x="856.60" y="480.40" font-size="16.0" text-anchor="end"  stroke="#000" stroke-width="0.22">0</text>
<line x1="857.40" y1="442.68" x2="862.40" y2="442.68" stroke="#2a2a2a" stroke-width="1.5"/>
<text x="856.60" y="448.28" font-size="16.0" text-anchor="end"  stroke="#000" stroke-width="0.22">20</text>
<line x1="857.40" y1="410.56" x2="862.40" y2="410.56" stroke="#2a2a2a" stroke-width="1.5"/>
<text x="856.60" y="416.16" font-size="16.0" text-anchor="end"  stroke="#000" stroke-width="0.22">40</text>
<line x1="857.40" y1="378.44" x2="862.40" y2="378.44" stroke="#2a2a2a" stroke-width="1.5"/>
<text x="856.60" y="384.04" font-size="16.0" text-anchor="end"  stroke="#000" stroke-width="0.22">60</text>
<line x1="857.40" y1="346.32" x2="862.40" y2="346.32" stroke="#2a2a2a" stroke-width="1.5"/>
<text x="856.60" y="351.92" font-size="16.0" text-anchor="end"  stroke="#000" stroke-width="0.22">80</text>
<line x1="857.40" y1="314.20" x2="862.40" y2="314.20" stroke="#2a2a2a" stroke-width="1.5"/>
<text x="856.60" y="319.80" font-size="16.0" text-anchor="end"  stroke="#000" stroke-width="0.22">100</text>
<line x1="889.00" y1="474.80" x2="889.00" y2="479.80" stroke="#2a2a2a" stroke-width="1.5"/>
<line x1="942.45" y1="474.80" x2="942.45" y2="479.80" stroke="#2a2a2a" stroke-width="1.5"/>
<line x1="995.90" y1="474.80" x2="995.90" y2="479.80" stroke="#2a2a2a" stroke-width="1.5"/>
<line x1="891.20" y1="339.10" x2="939.30" y2="339.10" stroke="#2a2a2a" stroke-width="1.4"/>
<text x="914.90" y="343.80" font-size="24" text-anchor="middle"  stroke="#000" stroke-width="0.22">**</text>
<line x1="947.20" y1="339.10" x2="995.60" y2="339.10" stroke="#2a2a2a" stroke-width="1.4"/>
<text x="967.10" y="343.80" font-size="24" text-anchor="middle"  stroke="#000" stroke-width="0.22">*</text>
<text transform="translate(816.00,393.00) rotate(-90)" x="0" y="5.51" font-size="15.3" text-anchor="middle" stroke="#000" stroke-width="0.22">Wound closure (%)</text>
<text x="850.00" y="503.60" font-size="15.4" text-anchor="end" textLength="130.2" lengthAdjust="spacingAndGlyphs" stroke="#000" stroke-width="0.22">OE_lncRNA-PRLB</text>
<text x="850.10" y="533.20" font-size="15.4" text-anchor="end"  stroke="#000" stroke-width="0.22">si-FUS</text>
<text x="889.70" y="504.91" font-size="27" text-anchor="middle"  stroke="#000" stroke-width="0.22">-</text>
<text x="889.70" y="533.81" font-size="27" text-anchor="middle"  stroke="#000" stroke-width="0.22">-</text>
<text x="944.25" y="502.30" font-size="22" text-anchor="middle" stroke="#000" stroke-width="0.4">+</text>
<text x="944.25" y="533.81" font-size="27" text-anchor="middle"  stroke="#000" stroke-width="0.22">-</text>
<text x="995.50" y="502.30" font-size="22" text-anchor="middle" stroke="#000" stroke-width="0.4">+</text>
<text x="995.50" y="532.80" font-size="22" text-anchor="middle" stroke="#000" stroke-width="0.4">+</text>
<text x="1115.40" y="327.90" font-size="43.2" text-anchor="start" font-weight="bold" style="text-rendering:geometricPrecision" stroke="#000" stroke-width="0.22">F</text>
<line x1="1243.10" y1="368.20" x2="1243.10" y2="350.20" stroke="#2a2a2a" stroke-width="1.3"/>
<line x1="1234.30" y1="350.20" x2="1251.90" y2="350.20" stroke="#2a2a2a" stroke-width="1.5"/>
<rect x="1225.85" y="368.95" width="34.50" height="105.85" fill="#000000" stroke="#1e1e1e" stroke-width="1.5"/>
<line x1="1296.40" y1="417.30" x2="1296.40" y2="408.40" stroke="#2a2a2a" stroke-width="1.3"/>
<line x1="1287.60" y1="408.40" x2="1305.20" y2="408.40" stroke="#2a2a2a" stroke-width="1.5"/>
<rect x="1278.95" y="418.05" width="34.90" height="56.75" fill="#ffffff" stroke="#1e1e1e" stroke-width="1.5"/>
<line x1="1350.15" y1="379.00" x2="1350.15" y2="376.80" stroke="#2a2a2a" stroke-width="1.3"/>
<line x1="1341.35" y1="376.80" x2="1358.95" y2="376.80" stroke="#2a2a2a" stroke-width="1.5"/>
<rect x="1332.75" y="379.75" width="34.80" height="95.05" fill="#847c7a" stroke="#1e1e1e" stroke-width="1.5"/>
<line x1="1216.20" y1="313.45" x2="1216.20" y2="475.55" stroke="#2a2a2a" stroke-width="1.5"/>
<line x1="1215.45" y1="474.80" x2="1376.90" y2="474.80" stroke="#2a2a2a" stroke-width="1.5"/>
<line x1="1211.20" y1="474.80" x2="1216.20" y2="474.80" stroke="#2a2a2a" stroke-width="1.5"/>
<text x="1210.40" y="480.40" font-size="16.0" text-anchor="end"  stroke="#000" stroke-width="0.22">0</text>
<line x1="1211.20" y1="421.27" x2="1216.20" y2="421.27" stroke="#2a2a2a" stroke-width="1.5"/>
<text x="1210.40" y="426.87" font-size="16.0" text-anchor="end"  stroke="#000" stroke-width="0.22">50</text>
<line x1="1211.20" y1="367.73" x2="1216.20" y2="367.73" stroke="#2a2a2a" stroke-width="1.5"/>
<text x="1210.40" y="373.33" font-size="16.0" text-anchor="end"  stroke="#000" stroke-width="0.22">100</text>
<line x1="1211.20" y1="314.20" x2="1216.20" y2="314.20" stroke="#2a2a2a" stroke-width="1.5"/>
<text x="1210.40" y="319.80" font-size="16.0" text-anchor="end"  stroke="#000" stroke-width="0.22">150</text>
<line x1="1243.10" y1="474.80" x2="1243.10" y2="479.80" stroke="#2a2a2a" stroke-width="1.5"/>
<line x1="1296.40" y1="474.80" x2="1296.40" y2="479.80" stroke="#2a2a2a" stroke-width="1.5"/>
<line x1="1350.15" y1="474.80" x2="1350.15" y2="479.80" stroke="#2a2a2a" stroke-width="1.5"/>
<line x1="1245.30" y1="345.80" x2="1294.00" y2="345.80" stroke="#2a2a2a" stroke-width="1.4"/>
<text x="1269.40" y="350.50" font-size="24" text-anchor="middle"  stroke="#000" stroke-width="0.22">***</text>
<line x1="1301.30" y1="373.60" x2="1349.40" y2="373.60" stroke="#2a2a2a" stroke-width="1.4"/>
<text x="1323.10" y="378.30" font-size="24" text-anchor="middle"  stroke="#000" stroke-width="0.22">*</text>
<text transform="translate(1151.70,391.80) rotate(-90)" x="0" y="5.51" font-size="15.3" text-anchor="middle" stroke="#000" stroke-width="0.22">Relative ROS</text>
<text transform="translate(1170.70,393.00) rotate(-90)" x="0" y="5.51" font-size="15.3" text-anchor="middle" stroke="#000" stroke-width="0.22">fluorescence intensity (%)</text>
<text x="1203.80" y="503.60" font-size="15.4" text-anchor="end" textLength="130.2" lengthAdjust="spacingAndGlyphs" stroke="#000" stroke-width="0.22">OE_lncRNA-PRLB</text>
<text x="1203.90" y="533.20" font-size="15.4" text-anchor="end"  stroke="#000" stroke-width="0.22">si-FUS</text>
<text x="1243.80" y="504.91" font-size="27" text-anchor="middle"  stroke="#000" stroke-width="0.22">-</text>
<text x="1243.80" y="533.81" font-size="27" text-anchor="middle"  stroke="#000" stroke-width="0.22">-</text>
<text x="1298.20" y="502.30" font-size="22" text-anchor="middle" stroke="#000" stroke-width="0.4">+</text>
<text x="1298.20" y="533.81" font-size="27" text-anchor="middle"  stroke="#000" stroke-width="0.22">-</text>
<text x="1349.75" y="502.30" font-size="22" text-anchor="middle" stroke="#000" stroke-width="0.4">+</text>
<text x="1349.75" y="532.80" font-size="22" text-anchor="middle" stroke="#000" stroke-width="0.4">+</text>
<text x="44.00" y="643.80" font-size="43.2" text-anchor="start" font-weight="bold" style="text-rendering:geometricPrecision" stroke="#000" stroke-width="0.22">G</text>
<line x1="173.00" y1="684.60" x2="173.00" y2="666.10" stroke="#2a2a2a" stroke-width="1.3"/>
<line x1="164.20" y1="666.10" x2="181.80" y2="666.10" stroke="#2a2a2a" stroke-width="1.5"/>
<rect x="155.95" y="685.35" width="34.10" height="106.25" fill="#000000" stroke="#1e1e1e" stroke-width="1.5"/>
<line x1="226.50" y1="733.80" x2="226.50" y2="725.40" stroke="#2a2a2a" stroke-width="1.3"/>
<line x1="217.70" y1="725.40" x2="235.30" y2="725.40" stroke="#2a2a2a" stroke-width="1.5"/>
<rect x="209.45" y="734.55" width="34.10" height="57.05" fill="#ffffff" stroke="#1e1e1e" stroke-width="1.5"/>
<line x1="280.00" y1="706.60" x2="280.00" y2="698.20" stroke="#2a2a2a" stroke-width="1.3"/>
<line x1="271.20" y1="698.20" x2="288.80" y2="698.20" stroke="#2a2a2a" stroke-width="1.5"/>
<rect x="262.95" y="707.35" width="34.10" height="84.25" fill="#847c7a" stroke="#1e1e1e" stroke-width="1.5"/>
<line x1="145.30" y1="629.45" x2="145.30" y2="792.35" stroke="#2a2a2a" stroke-width="1.5"/>
<line x1="144.55" y1="791.60" x2="307.00" y2="791.60" stroke="#2a2a2a" stroke-width="1.5"/>
<line x1="140.30" y1="791.60" x2="145.30" y2="791.60" stroke="#2a2a2a" stroke-width="1.5"/>
<text x="139.50" y="797.20" font-size="16.0" text-anchor="end"  stroke="#000" stroke-width="0.22">0</text>
<line x1="140.30" y1="737.80" x2="145.30" y2="737.80" stroke="#2a2a2a" stroke-width="1.5"/>
<text x="139.50" y="743.40" font-size="16.0" text-anchor="end"  stroke="#000" stroke-width="0.22">50</text>
<line x1="140.30" y1="684.00" x2="145.30" y2="684.00" stroke="#2a2a2a" stroke-width="1.5"/>
<text x="139.50" y="689.60" font-size="16.0" text-anchor="end"  stroke="#000" stroke-width="0.22">100</text>
<line x1="140.30" y1="630.20" x2="145.30" y2="630.20" stroke="#2a2a2a" stroke-width="1.5"/>
<text x="139.50" y="635.80" font-size="16.0" text-anchor="end"  stroke="#000" stroke-width="0.22">150</text>
<line x1="173.00" y1="791.60" x2="173.00" y2="796.60" stroke="#2a2a2a" stroke-width="1.5"/>
<line x1="226.50" y1="791.60" x2="226.50" y2="796.60" stroke="#2a2a2a" stroke-width="1.5"/>
<line x1="280.00" y1="791.60" x2="280.00" y2="796.60" stroke="#2a2a2a" stroke-width="1.5"/>
<line x1="175.30" y1="662.00" x2="223.30" y2="662.00" stroke="#2a2a2a" stroke-width="1.4"/>
<text x="199.40" y="666.70" font-size="24" text-anchor="middle"  stroke="#000" stroke-width="0.22">**</text>
<line x1="230.70" y1="692.70" x2="279.20" y2="692.70" stroke="#2a2a2a" stroke-width="1.4"/>
<text x="252.90" y="697.40" font-size="24" text-anchor="middle"  stroke="#000" stroke-width="0.22">*</text>
<text transform="translate(100.50,709.40) rotate(-90)" x="0" y="5.51" font-size="15.3" text-anchor="middle" stroke="#000" stroke-width="0.22">Relative MDA level (%)</text>
<text x="133.80" y="819.70" font-size="15.4" text-anchor="end" textLength="130.2" lengthAdjust="spacingAndGlyphs" stroke="#000" stroke-width="0.22">OE_lncRNA-PRLB</text>
<text x="133.70" y="848.70" font-size="15.4" text-anchor="end"  stroke="#000" stroke-width="0.22">si-FUS</text>
<text x="173.70" y="821.01" font-size="27" text-anchor="middle"  stroke="#000" stroke-width="0.22">-</text>
<text x="173.70" y="849.31" font-size="27" text-anchor="middle"  stroke="#000" stroke-width="0.22">-</text>
<text x="228.30" y="818.40" font-size="22" text-anchor="middle" stroke="#000" stroke-width="0.4">+</text>
<text x="228.30" y="849.31" font-size="27" text-anchor="middle"  stroke="#000" stroke-width="0.22">-</text>
<text x="279.60" y="818.40" font-size="22" text-anchor="middle" stroke="#000" stroke-width="0.4">+</text>
<text x="279.60" y="848.30" font-size="22" text-anchor="middle" stroke="#000" stroke-width="0.4">+</text>
<text x="360.80" y="644.00" font-size="43.2" text-anchor="start" font-weight="bold" style="text-rendering:geometricPrecision" stroke="#000" stroke-width="0.22">H</text>
<line x1="479.35" y1="652.50" x2="479.35" y2="644.10" stroke="#2a2a2a" stroke-width="1.3"/>
<line x1="470.55" y1="644.10" x2="488.15" y2="644.10" stroke="#2a2a2a" stroke-width="1.5"/>
<rect x="462.15" y="653.25" width="34.40" height="134.65" fill="#000000" stroke="#1e1e1e" stroke-width="1.5"/>
<line x1="533.00" y1="706.30" x2="533.00" y2="692.30" stroke="#2a2a2a" stroke-width="1.3"/>
<line x1="524.20" y1="692.30" x2="541.80" y2="692.30" stroke="#2a2a2a" stroke-width="1.5"/>
<rect x="515.95" y="707.05" width="34.10" height="80.85" fill="#ffffff" stroke="#1e1e1e" stroke-width="1.5"/>
<line x1="586.50" y1="670.40" x2="586.50" y2="665.80" stroke="#2a2a2a" stroke-width="1.3"/>
<line x1="577.70" y1="665.80" x2="595.30" y2="665.80" stroke="#2a2a2a" stroke-width="1.5"/>
<rect x="569.15" y="671.15" width="34.70" height="116.75" fill="#847c7a" stroke="#1e1e1e" stroke-width="1.5"/>
<line x1="452.40" y1="626.35" x2="452.40" y2="788.65" stroke="#2a2a2a" stroke-width="1.5"/>
<line x1="451.65" y1="787.90" x2="612.30" y2="787.90" stroke="#2a2a2a" stroke-width="1.5"/>
<line x1="447.40" y1="787.90" x2="452.40" y2="787.90" stroke="#2a2a2a" stroke-width="1.5"/>
<text x="446.60" y="793.50" font-size="16.0" text-anchor="end"  stroke="#000" stroke-width="0.22">0</text>
<line x1="447.40" y1="755.74" x2="452.40" y2="755.74" stroke="#2a2a2a" stroke-width="1.5"/>
<text x="446.60" y="761.34" font-size="16.0" text-anchor="end"  stroke="#000" stroke-width="0.22">5</text>
<line x1="447.40" y1="723.58" x2="452.40" y2="723.58" stroke="#2a2a2a" stroke-width="1.5"/>
<text x="446.60" y="729.18" font-size="16.0" text-anchor="end"  stroke="#000" stroke-width="0.22">10</text>
<line x1="447.40" y1="691.42" x2="452.40" y2="691.42" stroke="#2a2a2a" stroke-width="1.5"/>
<text x="446.60" y="697.02" font-size="16.0" text-anchor="end"  stroke="#000" stroke-width="0.22">15</text>
<line x1="447.40" y1="659.26" x2="452.40" y2="659.26" stroke="#2a2a2a" stroke-width="1.5"/>
<text x="446.60" y="664.86" font-size="16.0" text-anchor="end"  stroke="#000" stroke-width="0.22">20</text>
<line x1="447.40" y1="627.10" x2="452.40" y2="627.10" stroke="#2a2a2a" stroke-width="1.5"/>
<text x="446.60" y="632.70" font-size="16.0" text-anchor="end"  stroke="#000" stroke-width="0.22">25</text>
<line x1="479.35" y1="787.90" x2="479.35" y2="792.90" stroke="#2a2a2a" stroke-width="1.5"/>
<line x1="533.00" y1="787.90" x2="533.00" y2="792.90" stroke="#2a2a2a" stroke-width="1.5"/>
<line x1="586.50" y1="787.90" x2="586.50" y2="792.90" stroke="#2a2a2a" stroke-width="1.5"/>
<line x1="481.80" y1="638.90" x2="530.40" y2="638.90" stroke="#2a2a2a" stroke-width="1.4"/>
<text x="505.60" y="643.60" font-size="24" text-anchor="middle"  stroke="#000" stroke-width="0.22">**</text>
<line x1="537.50" y1="659.60" x2="586.00" y2="659.60" stroke="#2a2a2a" stroke-width="1.4"/>
<text x="561.30" y="664.30" font-size="24" text-anchor="middle"  stroke="#000" stroke-width="0.22">**</text>
<text transform="translate(415,706.7) rotate(-90)" x="0" y="5.51" font-size="15.3" text-anchor="middle" stroke="#000" stroke-width="0.22">Fe<tspan font-size="10" dy="-6">2+</tspan><tspan dy="6"> level (&#181;mol/mg protein)</tspan></text>
<text x="439.90" y="815.90" font-size="15.4" text-anchor="end" textLength="130.2" lengthAdjust="spacingAndGlyphs" stroke="#000" stroke-width="0.22">OE_lncRNA-PRLB</text>
<text x="439.80" y="845.50" font-size="15.4" text-anchor="end"  stroke="#000" stroke-width="0.22">si-FUS</text>
<text x="480.05" y="817.21" font-size="27" text-anchor="middle"  stroke="#000" stroke-width="0.22">-</text>
<text x="480.05" y="846.11" font-size="27" text-anchor="middle"  stroke="#000" stroke-width="0.22">-</text>
<text x="534.80" y="814.60" font-size="22" text-anchor="middle" stroke="#000" stroke-width="0.4">+</text>
<text x="534.80" y="846.11" font-size="27" text-anchor="middle"  stroke="#000" stroke-width="0.22">-</text>
<text x="586.10" y="814.60" font-size="22" text-anchor="middle" stroke="#000" stroke-width="0.4">+</text>
<text x="586.10" y="845.10" font-size="22" text-anchor="middle" stroke="#000" stroke-width="0.4">+</text>
<text x="699.30" y="644.00" font-size="43.2" text-anchor="start" font-weight="bold" style="text-rendering:geometricPrecision" stroke="#000" stroke-width="0.22">I</text>
<line x1="785.70" y1="668.50" x2="785.70" y2="655.60" stroke="#2a2a2a" stroke-width="1.3"/>
<line x1="776.90" y1="655.60" x2="794.50" y2="655.60" stroke="#2a2a2a" stroke-width="1.5"/>
<rect x="768.65" y="669.25" width="34.10" height="118.65" fill="#000000" stroke="#1e1e1e" stroke-width="1.5"/>
<line x1="839.20" y1="716.80" x2="839.20" y2="701.90" stroke="#2a2a2a" stroke-width="1.3"/>
<line x1="830.40" y1="701.90" x2="848.00" y2="701.90" stroke="#2a2a2a" stroke-width="1.5"/>
<rect x="821.85" y="717.55" width="34.70" height="70.35" fill="#ffffff" stroke="#1e1e1e" stroke-width="1.5"/>
<line x1="892.70" y1="683.70" x2="892.70" y2="676.90" stroke="#2a2a2a" stroke-width="1.3"/>
<line x1="883.90" y1="676.90" x2="901.50" y2="676.90" stroke="#2a2a2a" stroke-width="1.5"/>
<rect x="875.35" y="684.45" width="34.70" height="103.45" fill="#847c7a" stroke="#1e1e1e" stroke-width="1.5"/>
<line x1="758.60" y1="626.95" x2="758.60" y2="788.65" stroke="#2a2a2a" stroke-width="1.5"/>
<line x1="757.85" y1="787.90" x2="920.10" y2="787.90" stroke="#2a2a2a" stroke-width="1.5"/>
<line x1="753.60" y1="787.90" x2="758.60" y2="787.90" stroke="#2a2a2a" stroke-width="1.5"/>
<text x="752.80" y="793.50" font-size="16.0" text-anchor="end"  stroke="#000" stroke-width="0.22">0</text>
<line x1="753.60" y1="734.50" x2="758.60" y2="734.50" stroke="#2a2a2a" stroke-width="1.5"/>
<text x="752.80" y="740.10" font-size="16.0" text-anchor="end"  stroke="#000" stroke-width="0.22">10</text>
<line x1="753.60" y1="681.10" x2="758.60" y2="681.10" stroke="#2a2a2a" stroke-width="1.5"/>
<text x="752.80" y="686.70" font-size="16.0" text-anchor="end"  stroke="#000" stroke-width="0.22">20</text>
<line x1="753.60" y1="627.70" x2="758.60" y2="627.70" stroke="#2a2a2a" stroke-width="1.5"/>
<text x="752.80" y="633.30" font-size="16.0" text-anchor="end"  stroke="#000" stroke-width="0.22">30</text>
<line x1="785.70" y1="787.90" x2="785.70" y2="792.90" stroke="#2a2a2a" stroke-width="1.5"/>
<line x1="839.20" y1="787.90" x2="839.20" y2="792.90" stroke="#2a2a2a" stroke-width="1.5"/>
<line x1="892.70" y1="787.90" x2="892.70" y2="792.90" stroke="#2a2a2a" stroke-width="1.5"/>
<line x1="787.70" y1="650.90" x2="836.50" y2="650.90" stroke="#2a2a2a" stroke-width="1.4"/>
<text x="811.80" y="655.60" font-size="24" text-anchor="middle"  stroke="#000" stroke-width="0.22">**</text>
<line x1="843.70" y1="671.00" x2="892.20" y2="671.00" stroke="#2a2a2a" stroke-width="1.4"/>
<text x="867.50" y="675.70" font-size="24" text-anchor="middle"  stroke="#000" stroke-width="0.22">*</text>
<text transform="translate(721.20,706.00) rotate(-90)" x="0" y="5.51" font-size="15.3" text-anchor="middle" stroke="#000" stroke-width="0.22">LDH release (%)</text>
<text x="746.10" y="815.90" font-size="15.4" text-anchor="end" textLength="130.2" lengthAdjust="spacingAndGlyphs" stroke="#000" stroke-width="0.22">OE_lncRNA-PRLB</text>
<text x="746.00" y="845.50" font-size="15.4" text-anchor="end"  stroke="#000" stroke-width="0.22">si-FUS</text>
<text x="786.40" y="817.21" font-size="27" text-anchor="middle"  stroke="#000" stroke-width="0.22">-</text>
<text x="786.40" y="846.11" font-size="27" text-anchor="middle"  stroke="#000" stroke-width="0.22">-</text>
<text x="841.00" y="814.60" font-size="22" text-anchor="middle" stroke="#000" stroke-width="0.4">+</text>
<text x="841.00" y="846.11" font-size="27" text-anchor="middle"  stroke="#000" stroke-width="0.22">-</text>
<text x="892.30" y="814.60" font-size="22" text-anchor="middle" stroke="#000" stroke-width="0.4">+</text>
<text x="892.30" y="845.10" font-size="22" text-anchor="middle" stroke="#000" stroke-width="0.4">+</text>
<text x="982.80" y="644.00" font-size="43.2" text-anchor="start" font-weight="bold" style="text-rendering:geometricPrecision" stroke="#000" stroke-width="0.22">J</text>
<line x1="1095.90" y1="714.30" x2="1095.90" y2="709.70" stroke="#2a2a2a" stroke-width="1.3"/>
<line x1="1087.10" y1="709.70" x2="1104.70" y2="709.70" stroke="#2a2a2a" stroke-width="1.5"/>
<rect x="1078.55" y="715.05" width="34.70" height="72.85" fill="#000000" stroke="#1e1e1e" stroke-width="1.5"/>
<line x1="1149.40" y1="675.30" x2="1149.40" y2="665.10" stroke="#2a2a2a" stroke-width="1.3"/>
<line x1="1140.60" y1="665.10" x2="1158.20" y2="665.10" stroke="#2a2a2a" stroke-width="1.5"/>
<rect x="1132.05" y="676.05" width="34.70" height="111.85" fill="#ffffff" stroke="#1e1e1e" stroke-width="1.5"/>
<line x1="1202.60" y1="707.80" x2="1202.60" y2="700.70" stroke="#2a2a2a" stroke-width="1.3"/>
<line x1="1193.80" y1="700.70" x2="1211.40" y2="700.70" stroke="#2a2a2a" stroke-width="1.5"/>
<rect x="1185.25" y="708.55" width="34.70" height="79.35" fill="#847c7a" stroke="#1e1e1e" stroke-width="1.5"/>
<line x1="1068.80" y1="626.95" x2="1068.80" y2="788.65" stroke="#2a2a2a" stroke-width="1.5"/>
<line x1="1068.05" y1="787.90" x2="1229.40" y2="787.90" stroke="#2a2a2a" stroke-width="1.5"/>
<line x1="1063.80" y1="787.90" x2="1068.80" y2="787.90" stroke="#2a2a2a" stroke-width="1.5"/>
<text x="1063.00" y="793.50" font-size="16.0" text-anchor="end"  stroke="#000" stroke-width="0.22">0</text>
<line x1="1063.80" y1="755.86" x2="1068.80" y2="755.86" stroke="#2a2a2a" stroke-width="1.5"/>
<text x="1063.00" y="761.46" font-size="16.0" text-anchor="end"  stroke="#000" stroke-width="0.22">50</text>
<line x1="1063.80" y1="723.82" x2="1068.80" y2="723.82" stroke="#2a2a2a" stroke-width="1.5"/>
<text x="1063.00" y="729.42" font-size="16.0" text-anchor="end"  stroke="#000" stroke-width="0.22">100</text>
<line x1="1063.80" y1="691.78" x2="1068.80" y2="691.78" stroke="#2a2a2a" stroke-width="1.5"/>
<text x="1063.00" y="697.38" font-size="16.0" text-anchor="end"  stroke="#000" stroke-width="0.22">150</text>
<line x1="1063.80" y1="659.74" x2="1068.80" y2="659.74" stroke="#2a2a2a" stroke-width="1.5"/>
<text x="1063.00" y="665.34" font-size="16.0" text-anchor="end"  stroke="#000" stroke-width="0.22">200</text>
<line x1="1063.80" y1="627.70" x2="1068.80" y2="627.70" stroke="#2a2a2a" stroke-width="1.5"/>
<text x="1063.00" y="633.30" font-size="16.0" text-anchor="end"  stroke="#000" stroke-width="0.22">250</text>
<line x1="1095.90" y1="787.90" x2="1095.90" y2="792.90" stroke="#2a2a2a" stroke-width="1.5"/>
<line x1="1149.40" y1="787.90" x2="1149.40" y2="792.90" stroke="#2a2a2a" stroke-width="1.5"/>
<line x1="1202.60" y1="787.90" x2="1202.60" y2="792.90" stroke="#2a2a2a" stroke-width="1.5"/>
<line x1="1097.90" y1="661.10" x2="1146.40" y2="661.10" stroke="#2a2a2a" stroke-width="1.4"/>
<text x="1122.00" y="665.80" font-size="24" text-anchor="middle"  stroke="#000" stroke-width="0.22">**</text>
<line x1="1153.60" y1="661.10" x2="1202.10" y2="661.10" stroke="#2a2a2a" stroke-width="1.4"/>
<text x="1181.40" y="665.80" font-size="24" text-anchor="middle"  stroke="#000" stroke-width="0.22">**</text>
<text transform="translate(1022.10,706.70) rotate(-90)" x="0" y="5.51" font-size="15.3" text-anchor="middle" stroke="#000" stroke-width="0.22">GSH level (&#181;g/mg protein)</text>
<text x="1056.30" y="815.90" font-size="15.4" text-anchor="end" textLength="130.2" lengthAdjust="spacingAndGlyphs" stroke="#000" stroke-width="0.22">OE_lncRNA-PRLB</text>
<text x="1056.20" y="845.50" font-size="15.4" text-anchor="end"  stroke="#000" stroke-width="0.22">si-FUS</text>
<text x="1096.60" y="817.21" font-size="27" text-anchor="middle"  stroke="#000" stroke-width="0.22">-</text>
<text x="1096.60" y="846.11" font-size="27" text-anchor="middle"  stroke="#000" stroke-width="0.22">-</text>
<text x="1151.20" y="814.60" font-size="22" text-anchor="middle" stroke="#000" stroke-width="0.4">+</text>
<text x="1151.20" y="846.11" font-size="27" text-anchor="middle"  stroke="#000" stroke-width="0.22">-</text>
<text x="1202.20" y="814.60" font-size="22" text-anchor="middle" stroke="#000" stroke-width="0.4">+</text>
<text x="1202.20" y="845.10" font-size="22" text-anchor="middle" stroke="#000" stroke-width="0.4">+</text>
<text x="1279.20" y="644.00" font-size="43.2" text-anchor="start" font-weight="bold" style="text-rendering:geometricPrecision" stroke="#000" stroke-width="0.22">K</text>
<line x1="1395.45" y1="785.30" x2="1395.45" y2="783.80" stroke="#2a2a2a" stroke-width="1.3"/>
<line x1="1386.65" y1="783.80" x2="1404.25" y2="783.80" stroke="#2a2a2a" stroke-width="1.5"/>
<rect x="1378.45" y="786.05" width="34.00" height="1.75" fill="#000000" stroke="#1e1e1e" stroke-width="1.5"/>
<line x1="1449.20" y1="685.50" x2="1449.20" y2="648.70" stroke="#2a2a2a" stroke-width="1.3"/>
<line x1="1440.40" y1="648.70" x2="1458.00" y2="648.70" stroke="#2a2a2a" stroke-width="1.5"/>
<rect x="1431.85" y="686.25" width="34.70" height="101.55" fill="#ffffff" stroke="#1e1e1e" stroke-width="1.5"/>
<line x1="1502.40" y1="748.20" x2="1502.40" y2="741.40" stroke="#2a2a2a" stroke-width="1.3"/>
<line x1="1493.60" y1="741.40" x2="1511.20" y2="741.40" stroke="#2a2a2a" stroke-width="1.5"/>
<rect x="1485.05" y="748.95" width="34.70" height="38.85" fill="#847c7a" stroke="#1e1e1e" stroke-width="1.5"/>
<line x1="1368.40" y1="626.95" x2="1368.40" y2="788.55" stroke="#2a2a2a" stroke-width="1.5"/>
<line x1="1367.65" y1="787.80" x2="1528.20" y2="787.80" stroke="#2a2a2a" stroke-width="1.5"/>
<line x1="1363.40" y1="787.80" x2="1368.40" y2="787.80" stroke="#2a2a2a" stroke-width="1.5"/>
<text x="1362.60" y="793.40" font-size="16.0" text-anchor="end"  stroke="#000" stroke-width="0.22">0</text>
<line x1="1363.40" y1="747.77" x2="1368.40" y2="747.77" stroke="#2a2a2a" stroke-width="1.5"/>
<text x="1362.60" y="753.38" font-size="16.0" text-anchor="end"  stroke="#000" stroke-width="0.22">200</text>
<line x1="1363.40" y1="707.75" x2="1368.40" y2="707.75" stroke="#2a2a2a" stroke-width="1.5"/>
<text x="1362.60" y="713.35" font-size="16.0" text-anchor="end"  stroke="#000" stroke-width="0.22">400</text>
<line x1="1363.40" y1="667.73" x2="1368.40" y2="667.73" stroke="#2a2a2a" stroke-width="1.5"/>
<text x="1362.60" y="673.33" font-size="16.0" text-anchor="end"  stroke="#000" stroke-width="0.22">600</text>
<line x1="1363.40" y1="627.70" x2="1368.40" y2="627.70" stroke="#2a2a2a" stroke-width="1.5"/>
<text x="1362.60" y="633.30" font-size="16.0" text-anchor="end"  stroke="#000" stroke-width="0.22">800</text>
<line x1="1395.45" y1="787.80" x2="1395.45" y2="792.80" stroke="#2a2a2a" stroke-width="1.5"/>
<line x1="1449.20" y1="787.80" x2="1449.20" y2="792.80" stroke="#2a2a2a" stroke-width="1.5"/>
<line x1="1502.40" y1="787.80" x2="1502.40" y2="792.80" stroke="#2a2a2a" stroke-width="1.5"/>
<line x1="1397.80" y1="643.20" x2="1446.30" y2="643.20" stroke="#2a2a2a" stroke-width="1.4"/>
<text x="1421.90" y="647.90" font-size="24" text-anchor="middle"  stroke="#000" stroke-width="0.22">**</text>
<line x1="1453.40" y1="643.20" x2="1501.90" y2="643.20" stroke="#2a2a2a" stroke-width="1.4"/>
<text x="1475.60" y="647.90" font-size="24" text-anchor="middle"  stroke="#000" stroke-width="0.22">*</text>
<text transform="translate(1320.5,705.8) rotate(-90)" x="0" y="5.51" font-size="15.3" text-anchor="middle" stroke="#000" stroke-width="0.22">IC<tspan font-size="10" dy="4">50</tspan><tspan dy="-4"> (nM)</tspan></text>
<text x="1356.20" y="815.70" font-size="15.4" text-anchor="end" textLength="130.2" lengthAdjust="spacingAndGlyphs" stroke="#000" stroke-width="0.22">OE_lncRNA-PRLB</text>
<text x="1356.10" y="845.40" font-size="15.4" text-anchor="end"  stroke="#000" stroke-width="0.22">si-FUS</text>
<text x="1396.15" y="817.01" font-size="27" text-anchor="middle"  stroke="#000" stroke-width="0.22">-</text>
<text x="1396.15" y="846.01" font-size="27" text-anchor="middle"  stroke="#000" stroke-width="0.22">-</text>
<text x="1451.00" y="814.40" font-size="22" text-anchor="middle" stroke="#000" stroke-width="0.4">+</text>
<text x="1451.00" y="846.01" font-size="27" text-anchor="middle"  stroke="#000" stroke-width="0.22">-</text>
<text x="1502.00" y="814.40" font-size="22" text-anchor="middle" stroke="#000" stroke-width="0.4">+</text>
<text x="1502.00" y="845.00" font-size="22" text-anchor="middle" stroke="#000" stroke-width="0.4">+</text>
<text x="717.40" y="35.00" font-size="43.2" text-anchor="start" font-weight="bold" style="text-rendering:geometricPrecision" stroke="#000" stroke-width="0.22">B</text>
<line x1="803.00" y1="52.75" x2="803.00" y2="214.75" stroke="#2e3192" stroke-width="1.6"/>
<line x1="802.25" y1="214.00" x2="1044.40" y2="214.00" stroke="#2e3192" stroke-width="1.6"/>
<line x1="798.00" y1="214.00" x2="803.00" y2="214.00" stroke="#2e3192" stroke-width="1.5"/>
<text x="797.20" y="219.60" font-size="16.0" text-anchor="end"  stroke="#000" stroke-width="0.22">0.0</text>
<line x1="798.00" y1="173.88" x2="803.00" y2="173.88" stroke="#2e3192" stroke-width="1.5"/>
<text x="797.20" y="179.47" font-size="16.0" text-anchor="end"  stroke="#000" stroke-width="0.22">0.5</text>
<line x1="798.00" y1="133.75" x2="803.00" y2="133.75" stroke="#2e3192" stroke-width="1.5"/>
<text x="797.20" y="139.35" font-size="16.0" text-anchor="end"  stroke="#000" stroke-width="0.22">1.0</text>
<line x1="798.00" y1="93.62" x2="803.00" y2="93.62" stroke="#2e3192" stroke-width="1.5"/>
<text x="797.20" y="99.22" font-size="16.0" text-anchor="end"  stroke="#000" stroke-width="0.22">1.5</text>
<line x1="798.00" y1="53.50" x2="803.00" y2="53.50" stroke="#2e3192" stroke-width="1.5"/>
<text x="797.20" y="59.10" font-size="16.0" text-anchor="end"  stroke="#000" stroke-width="0.22">2.0</text>
<line x1="803.00" y1="214.00" x2="803.00" y2="219.00" stroke="#2e3192" stroke-width="1.5"/>
<text x="803.00" y="234.60" font-size="16.0" text-anchor="middle"  stroke="#000" stroke-width="0.22">0</text>
<line x1="918.70" y1="214.00" x2="918.70" y2="219.00" stroke="#2e3192" stroke-width="1.5"/>
<text x="918.70" y="234.60" font-size="16.0" text-anchor="middle"  stroke="#000" stroke-width="0.22">24</text>
<line x1="1034.40" y1="214.00" x2="1034.40" y2="219.00" stroke="#2e3192" stroke-width="1.5"/>
<text x="1034.40" y="234.60" font-size="16.0" text-anchor="middle"  stroke="#000" stroke-width="0.22">48</text>
<line x1="803.00" y1="178.05" x2="803.00" y2="160.07" stroke="#8a8a1e" stroke-width="1.3"/>
<line x1="800.20" y1="178.05" x2="805.80" y2="178.05" stroke="#8a8a1e" stroke-width="1.5"/>
<line x1="800.20" y1="160.07" x2="805.80" y2="160.07" stroke="#8a8a1e" stroke-width="1.5"/>
<line x1="918.70" y1="152.21" x2="918.70" y2="129.74" stroke="#8a8a1e" stroke-width="1.3"/>
<line x1="915.90" y1="152.21" x2="921.50" y2="152.21" stroke="#8a8a1e" stroke-width="1.5"/>
<line x1="915.90" y1="129.74" x2="921.50" y2="129.74" stroke="#8a8a1e" stroke-width="1.5"/>
<line x1="1034.40" y1="122.92" x2="1034.40" y2="98.84" stroke="#8a8a1e" stroke-width="1.3"/>
<line x1="1031.60" y1="122.92" x2="1037.20" y2="122.92" stroke="#8a8a1e" stroke-width="1.5"/>
<line x1="1031.60" y1="98.84" x2="1037.20" y2="98.84" stroke="#8a8a1e" stroke-width="1.5"/>
<polyline points="803.0,169.1 918.7,141.0 1034.4,110.9" fill="none" stroke="#8a8a1e" stroke-width="1.6"/>
<polygon points="803.0,165.1 799.0,172.1 807.0,172.1" fill="#8a8a1e"/>
<polygon points="918.7,137.0 914.7,144.0 922.7,144.0" fill="#8a8a1e"/>
<polygon points="1034.4,106.9 1030.4,113.9 1038.4,113.9" fill="#8a8a1e"/>
<line x1="803.00" y1="176.44" x2="803.00" y2="162.48" stroke="#f7941d" stroke-width="1.3"/>
<line x1="800.20" y1="176.44" x2="805.80" y2="176.44" stroke="#f7941d" stroke-width="1.5"/>
<line x1="800.20" y1="162.48" x2="805.80" y2="162.48" stroke="#f7941d" stroke-width="1.5"/>
<line x1="918.70" y1="133.43" x2="918.70" y2="117.38" stroke="#f7941d" stroke-width="1.3"/>
<line x1="915.90" y1="133.43" x2="921.50" y2="133.43" stroke="#f7941d" stroke-width="1.5"/>
<line x1="915.90" y1="117.38" x2="921.50" y2="117.38" stroke="#f7941d" stroke-width="1.5"/>
<line x1="1034.40" y1="96.84" x2="1034.40" y2="93.62" stroke="#f7941d" stroke-width="1.3"/>
<line x1="1031.60" y1="96.84" x2="1037.20" y2="96.84" stroke="#f7941d" stroke-width="1.5"/>
<line x1="1031.60" y1="93.62" x2="1037.20" y2="93.62" stroke="#f7941d" stroke-width="1.5"/>
<polyline points="803.0,169.5 918.7,125.4 1034.4,95.2" fill="none" stroke="#f7941d" stroke-width="1.6"/>
<circle cx="803.0" cy="169.5" r="3.9" fill="#f7941d"/>
<circle cx="918.7" cy="125.4" r="3.9" fill="#f7941d"/>
<circle cx="1034.4" cy="95.2" r="3.9" fill="#f7941d"/>
<line x1="803.00" y1="181.50" x2="803.00" y2="165.45" stroke="#ec1c8c" stroke-width="1.3"/>
<line x1="800.20" y1="181.50" x2="805.80" y2="181.50" stroke="#ec1c8c" stroke-width="1.5"/>
<line x1="800.20" y1="165.45" x2="805.80" y2="165.45" stroke="#ec1c8c" stroke-width="1.5"/>
<line x1="918.70" y1="157.18" x2="918.70" y2="137.60" stroke="#ec1c8c" stroke-width="1.3"/>
<line x1="915.90" y1="157.18" x2="921.50" y2="157.18" stroke="#ec1c8c" stroke-width="1.5"/>
<line x1="915.90" y1="137.60" x2="921.50" y2="137.60" stroke="#ec1c8c" stroke-width="1.5"/>
<line x1="1034.40" y1="128.61" x2="1034.40" y2="110.00" stroke="#ec1c8c" stroke-width="1.3"/>
<line x1="1031.60" y1="128.61" x2="1037.20" y2="128.61" stroke="#ec1c8c" stroke-width="1.5"/>
<line x1="1031.60" y1="110.00" x2="1037.20" y2="110.00" stroke="#ec1c8c" stroke-width="1.5"/>
<polyline points="803.0,173.5 918.7,147.4 1034.4,119.3" fill="none" stroke="#ec1c8c" stroke-width="1.6"/>
<circle cx="803.0" cy="173.5" r="3.9" fill="#ec1c8c"/>
<circle cx="918.7" cy="147.4" r="3.9" fill="#ec1c8c"/>
<circle cx="1034.4" cy="119.3" r="3.9" fill="#ec1c8c"/>
<text x="923.80" y="255.20" font-size="15.3" text-anchor="middle"  stroke="#000" stroke-width="0.22">Time (h)</text>
<text transform="translate(761.60,131.20) rotate(-90)" x="0" y="5.51" font-size="15.3" text-anchor="middle" stroke="#000" stroke-width="0.22">OD450 values</text>
<line x1="820.20" y1="25.70" x2="837.30" y2="25.70" stroke="#ec1c8c" stroke-width="1.6"/>
<circle cx="828.7" cy="25.7" r="3.6" fill="#ec1c8c"/>
<text x="846.70" y="30.30" font-size="13.0" text-anchor="start" fill="#2e3192"  stroke="#2e3192" stroke-width="0.22">Ctrl</text>
<line x1="820.20" y1="44.80" x2="837.30" y2="44.80" stroke="#f7941d" stroke-width="1.6"/>
<circle cx="828.7" cy="44.8" r="3.6" fill="#f7941d"/>
<text x="846.70" y="49.40" font-size="13.0" text-anchor="start" fill="#2e3192"  stroke="#2e3192" stroke-width="0.22">OE_lncRNA-PRLB</text>
<line x1="820.20" y1="62.70" x2="837.30" y2="62.70" stroke="#8a8a1e" stroke-width="1.6"/>
<polygon points="828.7,59.2 824.7,65.2 832.7,65.2" fill="#8a8a1e"/>
<text x="846.70" y="67.30" font-size="13.0" text-anchor="start" fill="#2e3192"  stroke="#2e3192" stroke-width="0.22">OE_lncRNA-PRLB + si-FUS</text>
<polyline points="872.2,25 967.3,25 967.3,45.6 957.6,45.6" fill="none" stroke="#2e3192" stroke-width="1.4"/>
<polyline points="970.6,44.8 1018.3,44.8 1018.3,62.7 1014.5,62.7" fill="none" stroke="#2e3192" stroke-width="1.4"/>
<text x="975.60" y="47.30" font-size="24" text-anchor="middle"  stroke="#000" stroke-width="0.22">*</text>
<text x="1026.60" y="67.50" font-size="24" text-anchor="middle"  stroke="#000" stroke-width="0.22">*</text>
</svg>
</body></html>
